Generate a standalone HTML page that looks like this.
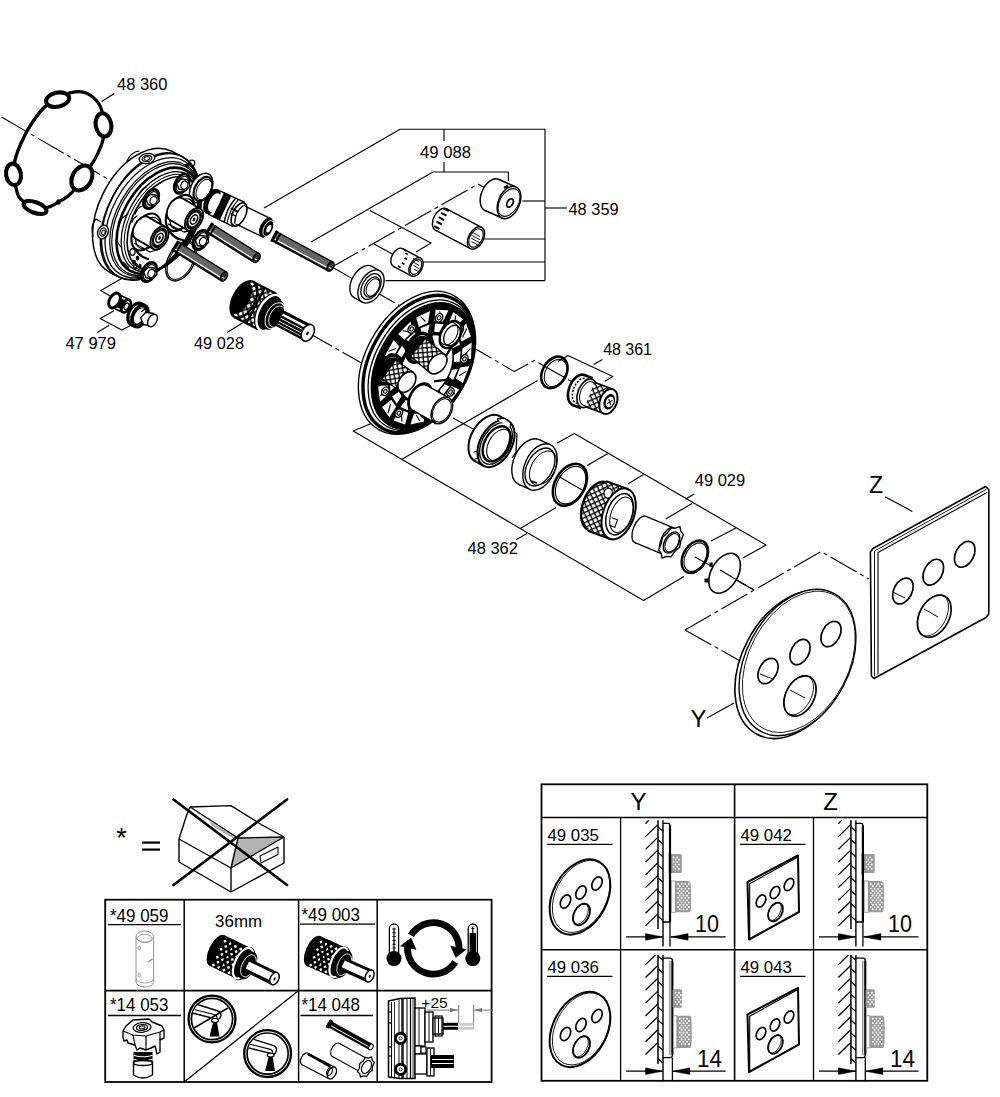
<!DOCTYPE html>
<html><head><meta charset="utf-8"><style>
html,body{margin:0;padding:0;background:#fff;}
svg{display:block;}
text{font-family:"Liberation Sans",sans-serif;fill:#000;}
</style></head><body>
<svg width="1000" height="1097" viewBox="0 0 1000 1097" stroke-linecap="butt">
<rect width="1000" height="1097" fill="#fff"/>
<rect x="541.5" y="784.3" width="385.8" height="296.5" rx="0" stroke="#000" stroke-width="1.8" fill="none" />
<line x1="541.5" y1="817.5" x2="927.3" y2="817.5" stroke="#000" stroke-width="1.6" />
<line x1="541.5" y1="949.7" x2="927.3" y2="949.7" stroke="#000" stroke-width="1.6" />
<line x1="734.6" y1="784.3" x2="734.6" y2="1080.8" stroke="#000" stroke-width="1.6" />
<line x1="620.6" y1="817.5" x2="620.6" y2="1080.8" stroke="#000" stroke-width="1.3" />
<line x1="813.5" y1="817.5" x2="813.5" y2="1080.8" stroke="#000" stroke-width="1.3" />
<text x="638.5" y="809.5" font-size="24" text-anchor="middle" >Y</text>
<text x="830.5" y="809.5" font-size="24" text-anchor="middle" >Z</text>
<text x="547.5" y="840.6" font-size="16.6" text-anchor="start" textLength="51.4" lengthAdjust="spacingAndGlyphs" >49 035</text>
<line x1="547.0" y1="844.4" x2="612.5" y2="844.4" stroke="#000" stroke-width="1.2" />
<text x="740.5" y="840.6" font-size="16.6" text-anchor="start" textLength="51.4" lengthAdjust="spacingAndGlyphs" >49 042</text>
<line x1="740.0" y1="844.4" x2="805.5" y2="844.4" stroke="#000" stroke-width="1.2" />
<text x="547.5" y="972.6" font-size="16.6" text-anchor="start" textLength="51.4" lengthAdjust="spacingAndGlyphs" >49 036</text>
<line x1="547.0" y1="976.4" x2="612.5" y2="976.4" stroke="#000" stroke-width="1.2" />
<text x="740.5" y="972.6" font-size="16.6" text-anchor="start" textLength="51.4" lengthAdjust="spacingAndGlyphs" >49 043</text>
<line x1="740.0" y1="976.4" x2="805.5" y2="976.4" stroke="#000" stroke-width="1.2" />
<ellipse cx="580.0" cy="897.0" rx="27.0" ry="40.0" transform="rotate(28 580.0 897.0)" stroke="#000" stroke-width="2.0" fill="none" />
<ellipse cx="581.2" cy="896.4" rx="25.5" ry="38.5" transform="rotate(28 581.2 896.4)" stroke="#000" stroke-width="0.8" fill="none" />
<ellipse cx="565.5" cy="901.5" rx="4.6" ry="7.0" transform="rotate(28 565.5 901.5)" stroke="#000" stroke-width="1.7" fill="none" />
<ellipse cx="581.0" cy="892.5" rx="4.6" ry="7.0" transform="rotate(28 581.0 892.5)" stroke="#000" stroke-width="1.7" fill="none" />
<ellipse cx="597.0" cy="883.5" rx="4.6" ry="7.0" transform="rotate(28 597.0 883.5)" stroke="#000" stroke-width="1.7" fill="none" />
<ellipse cx="581.5" cy="914.5" rx="7.5" ry="11.5" transform="rotate(28 581.5 914.5)" stroke="#000" stroke-width="1.8" fill="none" />
<ellipse cx="580.6" cy="914.0" rx="6.5" ry="11.3" transform="rotate(28 580.6 914.0)" stroke="#000" stroke-width="0.8" fill="none" />
<ellipse cx="580.0" cy="1029.5" rx="27.0" ry="40.0" transform="rotate(28 580.0 1029.5)" stroke="#000" stroke-width="2.0" fill="none" />
<ellipse cx="581.2" cy="1028.9" rx="25.5" ry="38.5" transform="rotate(28 581.2 1028.9)" stroke="#000" stroke-width="0.8" fill="none" />
<ellipse cx="565.5" cy="1034.0" rx="4.6" ry="7.0" transform="rotate(28 565.5 1034.0)" stroke="#000" stroke-width="1.7" fill="none" />
<ellipse cx="581.0" cy="1025.0" rx="4.6" ry="7.0" transform="rotate(28 581.0 1025.0)" stroke="#000" stroke-width="1.7" fill="none" />
<ellipse cx="597.0" cy="1016.0" rx="4.6" ry="7.0" transform="rotate(28 597.0 1016.0)" stroke="#000" stroke-width="1.7" fill="none" />
<ellipse cx="581.5" cy="1047.0" rx="7.5" ry="11.5" transform="rotate(28 581.5 1047.0)" stroke="#000" stroke-width="1.8" fill="none" />
<ellipse cx="580.6" cy="1046.5" rx="6.5" ry="11.3" transform="rotate(28 580.6 1046.5)" stroke="#000" stroke-width="0.8" fill="none" />
<path d="M747.5,882.0 L798.0,855.5 L799.0,912.0 L749.0,939.5 Z" stroke="#000" stroke-width="2.0" fill="none" stroke-linejoin="round" />
<path d="M749.7,939.0 L749.7,883.8 L797.5,857.3" stroke="#000" stroke-width="1.1" fill="none" stroke-linejoin="round" />
<ellipse cx="761.0" cy="901.0" rx="4.2" ry="6.6" transform="rotate(28 761.0 901.0)" stroke="#000" stroke-width="1.7" fill="none" />
<ellipse cx="775.0" cy="892.5" rx="4.2" ry="6.6" transform="rotate(28 775.0 892.5)" stroke="#000" stroke-width="1.7" fill="none" />
<ellipse cx="789.0" cy="884.5" rx="4.2" ry="6.6" transform="rotate(28 789.0 884.5)" stroke="#000" stroke-width="1.7" fill="none" />
<ellipse cx="775.5" cy="912.0" rx="6.5" ry="10.0" transform="rotate(28 775.5 912.0)" stroke="#000" stroke-width="1.8" fill="none" />
<ellipse cx="774.6" cy="911.5" rx="5.5" ry="9.8" transform="rotate(28 774.6 911.5)" stroke="#000" stroke-width="0.8" fill="none" />
<path d="M747.5,1014.5 L798.0,988.0 L799.0,1044.5 L749.0,1072.0 Z" stroke="#000" stroke-width="2.0" fill="none" stroke-linejoin="round" />
<path d="M749.7,1071.5 L749.7,1016.3 L797.5,989.8" stroke="#000" stroke-width="1.1" fill="none" stroke-linejoin="round" />
<ellipse cx="761.0" cy="1033.5" rx="4.2" ry="6.6" transform="rotate(28 761.0 1033.5)" stroke="#000" stroke-width="1.7" fill="none" />
<ellipse cx="775.0" cy="1025.0" rx="4.2" ry="6.6" transform="rotate(28 775.0 1025.0)" stroke="#000" stroke-width="1.7" fill="none" />
<ellipse cx="789.0" cy="1017.0" rx="4.2" ry="6.6" transform="rotate(28 789.0 1017.0)" stroke="#000" stroke-width="1.7" fill="none" />
<ellipse cx="775.5" cy="1044.5" rx="6.5" ry="10.0" transform="rotate(28 775.5 1044.5)" stroke="#000" stroke-width="1.8" fill="none" />
<ellipse cx="774.6" cy="1044.0" rx="5.5" ry="9.8" transform="rotate(28 774.6 1044.0)" stroke="#000" stroke-width="0.8" fill="none" />
<line x1="645.5" y1="823.8" x2="648.7" y2="820.4" stroke="#000" stroke-width="1.3" />
<line x1="645.5" y1="836.6" x2="657.8" y2="824.6" stroke="#000" stroke-width="1.3" />
<line x1="645.5" y1="849.4" x2="657.8" y2="837.4" stroke="#000" stroke-width="1.3" />
<line x1="645.5" y1="862.1" x2="657.8" y2="850.1" stroke="#000" stroke-width="1.3" />
<line x1="645.5" y1="874.9" x2="657.8" y2="862.9" stroke="#000" stroke-width="1.3" />
<line x1="645.5" y1="887.6" x2="657.8" y2="875.6" stroke="#000" stroke-width="1.3" />
<line x1="645.5" y1="900.4" x2="657.8" y2="888.4" stroke="#000" stroke-width="1.3" />
<line x1="645.5" y1="913.2" x2="657.8" y2="901.2" stroke="#000" stroke-width="1.3" />
<line x1="645.5" y1="925.9" x2="657.8" y2="913.9" stroke="#000" stroke-width="1.3" />
<line x1="658.0" y1="820.2" x2="658.0" y2="929.0" stroke="#000" stroke-width="1.5" />
<line x1="663.0" y1="820.2" x2="663.0" y2="946.5" stroke="#000" stroke-width="1.4" />
<line x1="658.0" y1="827.0" x2="663.0" y2="831.3" stroke="#000" stroke-width="1.3" />
<line x1="658.0" y1="839.8" x2="663.0" y2="844.1" stroke="#000" stroke-width="1.3" />
<line x1="658.0" y1="852.5" x2="663.0" y2="856.8" stroke="#000" stroke-width="1.3" />
<line x1="658.0" y1="865.3" x2="663.0" y2="869.6" stroke="#000" stroke-width="1.3" />
<line x1="658.0" y1="878.0" x2="663.0" y2="882.3" stroke="#000" stroke-width="1.3" />
<line x1="658.0" y1="890.8" x2="663.0" y2="895.1" stroke="#000" stroke-width="1.3" />
<line x1="658.0" y1="903.6" x2="663.0" y2="907.9" stroke="#000" stroke-width="1.3" />
<line x1="658.0" y1="916.3" x2="663.0" y2="920.6" stroke="#000" stroke-width="1.3" />
<path d="M663.0,823.4 L668.0,823.4 Q670.0,823.4 670.0,825.5 L670.0,922.0 L663.0,922.0" stroke="#000" stroke-width="1.3" fill="none" stroke-linejoin="round" stroke-linecap="round" />
<line x1="670.0" y1="825.5" x2="670.0" y2="922.0" stroke="#000" stroke-width="2.2" />
<line x1="670.0" y1="922.0" x2="670.0" y2="946.5" stroke="#000" stroke-width="1.3" />
<rect x="670.3" y="853.9" width="11.5" height="19.0" rx="1.5" stroke="#000" stroke-width="0" fill="#9a9a9a" />
<line x1="670.0" y1="853.5" x2="670.0" y2="873.5" stroke="#000" stroke-width="2.4" />
<rect x="671.4" y="880.9" width="4.0" height="31.4" rx="0" stroke="#9a9a9a" stroke-width="0.9" fill="#fff" />
<path d="M675.0,880.9 L688.5,880.9 Q690.8,881.5 690.8,884.5 Q691.6,896.5 690.8,908.5 Q690.8,912.3 688.5,912.3 L675.0,912.3 Z" stroke="#000" stroke-width="0" fill="#9a9a9a" stroke-linejoin="round" stroke-linecap="round" />
<circle cx="673.50" cy="857.50" r="0.95" fill="#fff"/>
<circle cx="677.10" cy="857.50" r="0.95" fill="#fff"/>
<circle cx="675.30" cy="859.80" r="0.95" fill="#fff"/>
<circle cx="678.90" cy="859.80" r="0.95" fill="#fff"/>
<circle cx="673.50" cy="862.10" r="0.95" fill="#fff"/>
<circle cx="677.10" cy="862.10" r="0.95" fill="#fff"/>
<circle cx="675.30" cy="864.40" r="0.95" fill="#fff"/>
<circle cx="678.90" cy="864.40" r="0.95" fill="#fff"/>
<circle cx="673.50" cy="866.70" r="0.95" fill="#fff"/>
<circle cx="677.10" cy="866.70" r="0.95" fill="#fff"/>
<circle cx="675.30" cy="869.00" r="0.95" fill="#fff"/>
<circle cx="678.90" cy="869.00" r="0.95" fill="#fff"/>
<circle cx="678.00" cy="884.00" r="0.95" fill="#fff"/>
<circle cx="681.60" cy="884.00" r="0.95" fill="#fff"/>
<circle cx="685.20" cy="884.00" r="0.95" fill="#fff"/>
<circle cx="688.80" cy="884.00" r="0.95" fill="#fff"/>
<circle cx="679.80" cy="886.30" r="0.95" fill="#fff"/>
<circle cx="683.40" cy="886.30" r="0.95" fill="#fff"/>
<circle cx="687.00" cy="886.30" r="0.95" fill="#fff"/>
<circle cx="678.00" cy="888.60" r="0.95" fill="#fff"/>
<circle cx="681.60" cy="888.60" r="0.95" fill="#fff"/>
<circle cx="685.20" cy="888.60" r="0.95" fill="#fff"/>
<circle cx="688.80" cy="888.60" r="0.95" fill="#fff"/>
<circle cx="679.80" cy="890.90" r="0.95" fill="#fff"/>
<circle cx="683.40" cy="890.90" r="0.95" fill="#fff"/>
<circle cx="687.00" cy="890.90" r="0.95" fill="#fff"/>
<circle cx="678.00" cy="893.20" r="0.95" fill="#fff"/>
<circle cx="681.60" cy="893.20" r="0.95" fill="#fff"/>
<circle cx="685.20" cy="893.20" r="0.95" fill="#fff"/>
<circle cx="688.80" cy="893.20" r="0.95" fill="#fff"/>
<circle cx="679.80" cy="895.50" r="0.95" fill="#fff"/>
<circle cx="683.40" cy="895.50" r="0.95" fill="#fff"/>
<circle cx="687.00" cy="895.50" r="0.95" fill="#fff"/>
<circle cx="678.00" cy="897.80" r="0.95" fill="#fff"/>
<circle cx="681.60" cy="897.80" r="0.95" fill="#fff"/>
<circle cx="685.20" cy="897.80" r="0.95" fill="#fff"/>
<circle cx="688.80" cy="897.80" r="0.95" fill="#fff"/>
<circle cx="679.80" cy="900.10" r="0.95" fill="#fff"/>
<circle cx="683.40" cy="900.10" r="0.95" fill="#fff"/>
<circle cx="687.00" cy="900.10" r="0.95" fill="#fff"/>
<circle cx="678.00" cy="902.40" r="0.95" fill="#fff"/>
<circle cx="681.60" cy="902.40" r="0.95" fill="#fff"/>
<circle cx="685.20" cy="902.40" r="0.95" fill="#fff"/>
<circle cx="688.80" cy="902.40" r="0.95" fill="#fff"/>
<circle cx="679.80" cy="904.70" r="0.95" fill="#fff"/>
<circle cx="683.40" cy="904.70" r="0.95" fill="#fff"/>
<circle cx="687.00" cy="904.70" r="0.95" fill="#fff"/>
<circle cx="678.00" cy="907.00" r="0.95" fill="#fff"/>
<circle cx="681.60" cy="907.00" r="0.95" fill="#fff"/>
<circle cx="685.20" cy="907.00" r="0.95" fill="#fff"/>
<circle cx="688.80" cy="907.00" r="0.95" fill="#fff"/>
<circle cx="679.80" cy="909.30" r="0.95" fill="#fff"/>
<circle cx="683.40" cy="909.30" r="0.95" fill="#fff"/>
<circle cx="687.00" cy="909.30" r="0.95" fill="#fff"/>
<text x="695.1" y="932.0" font-size="23" text-anchor="start" textLength="24" lengthAdjust="spacingAndGlyphs" >10</text>
<line x1="626.1" y1="936.9" x2="663.0" y2="936.9" stroke="#000" stroke-width="1.3" />
<path d="M663.0,936.9 L645.5,933.5 L645.5,940.3 Z" stroke="#000" stroke-width="0.4" fill="#000" stroke-linejoin="round" />
<line x1="670.6" y1="936.9" x2="725.6" y2="936.9" stroke="#000" stroke-width="1.3" />
<path d="M670.6,936.9 L688.1,933.5 L688.1,940.3 Z" stroke="#000" stroke-width="0.4" fill="#000" stroke-linejoin="round" />
<line x1="838.4" y1="823.8" x2="841.6" y2="820.4" stroke="#000" stroke-width="1.3" />
<line x1="838.4" y1="836.6" x2="850.7" y2="824.6" stroke="#000" stroke-width="1.3" />
<line x1="838.4" y1="849.4" x2="850.7" y2="837.4" stroke="#000" stroke-width="1.3" />
<line x1="838.4" y1="862.1" x2="850.7" y2="850.1" stroke="#000" stroke-width="1.3" />
<line x1="838.4" y1="874.9" x2="850.7" y2="862.9" stroke="#000" stroke-width="1.3" />
<line x1="838.4" y1="887.6" x2="850.7" y2="875.6" stroke="#000" stroke-width="1.3" />
<line x1="838.4" y1="900.4" x2="850.7" y2="888.4" stroke="#000" stroke-width="1.3" />
<line x1="838.4" y1="913.2" x2="850.7" y2="901.2" stroke="#000" stroke-width="1.3" />
<line x1="838.4" y1="925.9" x2="850.7" y2="913.9" stroke="#000" stroke-width="1.3" />
<line x1="850.9" y1="820.2" x2="850.9" y2="929.0" stroke="#000" stroke-width="1.5" />
<line x1="855.9" y1="820.2" x2="855.9" y2="946.5" stroke="#000" stroke-width="1.4" />
<line x1="850.9" y1="827.0" x2="855.9" y2="831.3" stroke="#000" stroke-width="1.3" />
<line x1="850.9" y1="839.8" x2="855.9" y2="844.1" stroke="#000" stroke-width="1.3" />
<line x1="850.9" y1="852.5" x2="855.9" y2="856.8" stroke="#000" stroke-width="1.3" />
<line x1="850.9" y1="865.3" x2="855.9" y2="869.6" stroke="#000" stroke-width="1.3" />
<line x1="850.9" y1="878.0" x2="855.9" y2="882.3" stroke="#000" stroke-width="1.3" />
<line x1="850.9" y1="890.8" x2="855.9" y2="895.1" stroke="#000" stroke-width="1.3" />
<line x1="850.9" y1="903.6" x2="855.9" y2="907.9" stroke="#000" stroke-width="1.3" />
<line x1="850.9" y1="916.3" x2="855.9" y2="920.6" stroke="#000" stroke-width="1.3" />
<path d="M855.9,823.4 L860.9,823.4 Q862.9,823.4 862.9,825.5 L862.9,922.0 L855.9,922.0" stroke="#000" stroke-width="1.3" fill="none" stroke-linejoin="round" stroke-linecap="round" />
<line x1="862.9" y1="825.5" x2="862.9" y2="922.0" stroke="#000" stroke-width="2.2" />
<line x1="862.9" y1="922.0" x2="862.9" y2="946.5" stroke="#000" stroke-width="1.3" />
<rect x="863.2" y="853.9" width="11.5" height="19.0" rx="1.5" stroke="#000" stroke-width="0" fill="#9a9a9a" />
<line x1="862.9" y1="853.5" x2="862.9" y2="873.5" stroke="#000" stroke-width="2.4" />
<rect x="864.3" y="880.9" width="4.0" height="31.4" rx="0" stroke="#9a9a9a" stroke-width="0.9" fill="#fff" />
<path d="M867.9,880.9 L881.4,880.9 Q883.6999999999999,881.5 883.6999999999999,884.5 Q884.5,896.5 883.6999999999999,908.5 Q883.6999999999999,912.3 881.4,912.3 L867.9,912.3 Z" stroke="#000" stroke-width="0" fill="#9a9a9a" stroke-linejoin="round" stroke-linecap="round" />
<circle cx="866.40" cy="857.50" r="0.95" fill="#fff"/>
<circle cx="870.00" cy="857.50" r="0.95" fill="#fff"/>
<circle cx="868.20" cy="859.80" r="0.95" fill="#fff"/>
<circle cx="871.80" cy="859.80" r="0.95" fill="#fff"/>
<circle cx="866.40" cy="862.10" r="0.95" fill="#fff"/>
<circle cx="870.00" cy="862.10" r="0.95" fill="#fff"/>
<circle cx="868.20" cy="864.40" r="0.95" fill="#fff"/>
<circle cx="871.80" cy="864.40" r="0.95" fill="#fff"/>
<circle cx="866.40" cy="866.70" r="0.95" fill="#fff"/>
<circle cx="870.00" cy="866.70" r="0.95" fill="#fff"/>
<circle cx="868.20" cy="869.00" r="0.95" fill="#fff"/>
<circle cx="871.80" cy="869.00" r="0.95" fill="#fff"/>
<circle cx="870.90" cy="884.00" r="0.95" fill="#fff"/>
<circle cx="874.50" cy="884.00" r="0.95" fill="#fff"/>
<circle cx="878.10" cy="884.00" r="0.95" fill="#fff"/>
<circle cx="881.70" cy="884.00" r="0.95" fill="#fff"/>
<circle cx="872.70" cy="886.30" r="0.95" fill="#fff"/>
<circle cx="876.30" cy="886.30" r="0.95" fill="#fff"/>
<circle cx="879.90" cy="886.30" r="0.95" fill="#fff"/>
<circle cx="870.90" cy="888.60" r="0.95" fill="#fff"/>
<circle cx="874.50" cy="888.60" r="0.95" fill="#fff"/>
<circle cx="878.10" cy="888.60" r="0.95" fill="#fff"/>
<circle cx="881.70" cy="888.60" r="0.95" fill="#fff"/>
<circle cx="872.70" cy="890.90" r="0.95" fill="#fff"/>
<circle cx="876.30" cy="890.90" r="0.95" fill="#fff"/>
<circle cx="879.90" cy="890.90" r="0.95" fill="#fff"/>
<circle cx="870.90" cy="893.20" r="0.95" fill="#fff"/>
<circle cx="874.50" cy="893.20" r="0.95" fill="#fff"/>
<circle cx="878.10" cy="893.20" r="0.95" fill="#fff"/>
<circle cx="881.70" cy="893.20" r="0.95" fill="#fff"/>
<circle cx="872.70" cy="895.50" r="0.95" fill="#fff"/>
<circle cx="876.30" cy="895.50" r="0.95" fill="#fff"/>
<circle cx="879.90" cy="895.50" r="0.95" fill="#fff"/>
<circle cx="870.90" cy="897.80" r="0.95" fill="#fff"/>
<circle cx="874.50" cy="897.80" r="0.95" fill="#fff"/>
<circle cx="878.10" cy="897.80" r="0.95" fill="#fff"/>
<circle cx="881.70" cy="897.80" r="0.95" fill="#fff"/>
<circle cx="872.70" cy="900.10" r="0.95" fill="#fff"/>
<circle cx="876.30" cy="900.10" r="0.95" fill="#fff"/>
<circle cx="879.90" cy="900.10" r="0.95" fill="#fff"/>
<circle cx="870.90" cy="902.40" r="0.95" fill="#fff"/>
<circle cx="874.50" cy="902.40" r="0.95" fill="#fff"/>
<circle cx="878.10" cy="902.40" r="0.95" fill="#fff"/>
<circle cx="881.70" cy="902.40" r="0.95" fill="#fff"/>
<circle cx="872.70" cy="904.70" r="0.95" fill="#fff"/>
<circle cx="876.30" cy="904.70" r="0.95" fill="#fff"/>
<circle cx="879.90" cy="904.70" r="0.95" fill="#fff"/>
<circle cx="870.90" cy="907.00" r="0.95" fill="#fff"/>
<circle cx="874.50" cy="907.00" r="0.95" fill="#fff"/>
<circle cx="878.10" cy="907.00" r="0.95" fill="#fff"/>
<circle cx="881.70" cy="907.00" r="0.95" fill="#fff"/>
<circle cx="872.70" cy="909.30" r="0.95" fill="#fff"/>
<circle cx="876.30" cy="909.30" r="0.95" fill="#fff"/>
<circle cx="879.90" cy="909.30" r="0.95" fill="#fff"/>
<text x="888.0" y="932.0" font-size="23" text-anchor="start" textLength="24" lengthAdjust="spacingAndGlyphs" >10</text>
<line x1="819.0" y1="936.9" x2="855.9" y2="936.9" stroke="#000" stroke-width="1.3" />
<path d="M855.9,936.9 L838.4,933.5 L838.4,940.3 Z" stroke="#000" stroke-width="0.4" fill="#000" stroke-linejoin="round" />
<line x1="863.5" y1="936.9" x2="918.5" y2="936.9" stroke="#000" stroke-width="1.3" />
<path d="M863.5,936.9 L881.0,933.5 L881.0,940.3 Z" stroke="#000" stroke-width="0.4" fill="#000" stroke-linejoin="round" />
<line x1="645.5" y1="964.6" x2="655.5" y2="955.0" stroke="#000" stroke-width="1.3" />
<line x1="645.5" y1="977.5" x2="657.8" y2="965.5" stroke="#000" stroke-width="1.3" />
<line x1="645.5" y1="990.3" x2="657.8" y2="978.3" stroke="#000" stroke-width="1.3" />
<line x1="645.5" y1="1003.1" x2="657.8" y2="991.1" stroke="#000" stroke-width="1.3" />
<line x1="645.5" y1="1016.0" x2="657.8" y2="1004.0" stroke="#000" stroke-width="1.3" />
<line x1="645.5" y1="1028.8" x2="657.8" y2="1016.8" stroke="#000" stroke-width="1.3" />
<line x1="645.5" y1="1041.7" x2="657.8" y2="1029.7" stroke="#000" stroke-width="1.3" />
<line x1="645.5" y1="1054.5" x2="657.8" y2="1042.5" stroke="#000" stroke-width="1.3" />
<line x1="658.0" y1="955.0" x2="658.0" y2="1064.0" stroke="#000" stroke-width="1.5" />
<line x1="663.0" y1="955.0" x2="663.0" y2="1081.2" stroke="#000" stroke-width="1.4" />
<line x1="658.0" y1="955.9" x2="663.0" y2="960.2" stroke="#000" stroke-width="1.3" />
<line x1="658.0" y1="968.8" x2="663.0" y2="973.1" stroke="#000" stroke-width="1.3" />
<line x1="658.0" y1="981.6" x2="663.0" y2="985.9" stroke="#000" stroke-width="1.3" />
<line x1="658.0" y1="994.5" x2="663.0" y2="998.8" stroke="#000" stroke-width="1.3" />
<line x1="658.0" y1="1007.3" x2="663.0" y2="1011.6" stroke="#000" stroke-width="1.3" />
<line x1="658.0" y1="1020.2" x2="663.0" y2="1024.5" stroke="#000" stroke-width="1.3" />
<line x1="658.0" y1="1033.0" x2="663.0" y2="1037.3" stroke="#000" stroke-width="1.3" />
<line x1="658.0" y1="1045.9" x2="663.0" y2="1050.2" stroke="#000" stroke-width="1.3" />
<line x1="658.0" y1="1058.7" x2="663.0" y2="1063.0" stroke="#000" stroke-width="1.3" />
<path d="M663.0,958.2 L670.1999999999999,958.2 Q672.4,958.2 672.4,960.7 L672.4,1054.7 Q672.4,1057.6000000000001 670.1999999999999,1057.6000000000001 L663.0,1057.6000000000001" stroke="#000" stroke-width="1.3" fill="none" stroke-linejoin="round" stroke-linecap="round" />
<line x1="672.4" y1="960.7" x2="672.4" y2="1054.7" stroke="#000" stroke-width="2.0" />
<line x1="669.9" y1="960.7" x2="669.9" y2="1055.2" stroke="#666" stroke-width="1.0" />
<line x1="672.4" y1="1057.6" x2="672.4" y2="1081.2" stroke="#000" stroke-width="1.3" />
<rect x="672.6" y="989.3" width="9.4" height="18.4" rx="1.5" stroke="#000" stroke-width="0" fill="#9a9a9a" />
<rect x="673.4" y="1015.7" width="3.5" height="32.2" rx="0" stroke="#9a9a9a" stroke-width="0.9" fill="#fff" />
<path d="M676.9,1015.7 L689.4,1015.7 Q691.4,1016.2 691.4,1019.2 Q692.1999999999999,1031.7 691.4,1043.7 Q691.4,1047.9 689.4,1047.9 L676.9,1047.9 Z" stroke="#000" stroke-width="0" fill="#9a9a9a" stroke-linejoin="round" stroke-linecap="round" />
<circle cx="675.40" cy="992.70" r="0.95" fill="#fff"/>
<circle cx="679.00" cy="992.70" r="0.95" fill="#fff"/>
<circle cx="677.20" cy="995.00" r="0.95" fill="#fff"/>
<circle cx="680.80" cy="995.00" r="0.95" fill="#fff"/>
<circle cx="675.40" cy="997.30" r="0.95" fill="#fff"/>
<circle cx="679.00" cy="997.30" r="0.95" fill="#fff"/>
<circle cx="677.20" cy="999.60" r="0.95" fill="#fff"/>
<circle cx="680.80" cy="999.60" r="0.95" fill="#fff"/>
<circle cx="675.40" cy="1001.90" r="0.95" fill="#fff"/>
<circle cx="679.00" cy="1001.90" r="0.95" fill="#fff"/>
<circle cx="677.20" cy="1004.20" r="0.95" fill="#fff"/>
<circle cx="680.80" cy="1004.20" r="0.95" fill="#fff"/>
<circle cx="679.90" cy="1018.70" r="0.95" fill="#fff"/>
<circle cx="683.50" cy="1018.70" r="0.95" fill="#fff"/>
<circle cx="687.10" cy="1018.70" r="0.95" fill="#fff"/>
<circle cx="681.70" cy="1021.00" r="0.95" fill="#fff"/>
<circle cx="685.30" cy="1021.00" r="0.95" fill="#fff"/>
<circle cx="688.90" cy="1021.00" r="0.95" fill="#fff"/>
<circle cx="679.90" cy="1023.30" r="0.95" fill="#fff"/>
<circle cx="683.50" cy="1023.30" r="0.95" fill="#fff"/>
<circle cx="687.10" cy="1023.30" r="0.95" fill="#fff"/>
<circle cx="681.70" cy="1025.60" r="0.95" fill="#fff"/>
<circle cx="685.30" cy="1025.60" r="0.95" fill="#fff"/>
<circle cx="688.90" cy="1025.60" r="0.95" fill="#fff"/>
<circle cx="679.90" cy="1027.90" r="0.95" fill="#fff"/>
<circle cx="683.50" cy="1027.90" r="0.95" fill="#fff"/>
<circle cx="687.10" cy="1027.90" r="0.95" fill="#fff"/>
<circle cx="681.70" cy="1030.20" r="0.95" fill="#fff"/>
<circle cx="685.30" cy="1030.20" r="0.95" fill="#fff"/>
<circle cx="688.90" cy="1030.20" r="0.95" fill="#fff"/>
<circle cx="679.90" cy="1032.50" r="0.95" fill="#fff"/>
<circle cx="683.50" cy="1032.50" r="0.95" fill="#fff"/>
<circle cx="687.10" cy="1032.50" r="0.95" fill="#fff"/>
<circle cx="681.70" cy="1034.80" r="0.95" fill="#fff"/>
<circle cx="685.30" cy="1034.80" r="0.95" fill="#fff"/>
<circle cx="688.90" cy="1034.80" r="0.95" fill="#fff"/>
<circle cx="679.90" cy="1037.10" r="0.95" fill="#fff"/>
<circle cx="683.50" cy="1037.10" r="0.95" fill="#fff"/>
<circle cx="687.10" cy="1037.10" r="0.95" fill="#fff"/>
<circle cx="681.70" cy="1039.40" r="0.95" fill="#fff"/>
<circle cx="685.30" cy="1039.40" r="0.95" fill="#fff"/>
<circle cx="688.90" cy="1039.40" r="0.95" fill="#fff"/>
<circle cx="679.90" cy="1041.70" r="0.95" fill="#fff"/>
<circle cx="683.50" cy="1041.70" r="0.95" fill="#fff"/>
<circle cx="687.10" cy="1041.70" r="0.95" fill="#fff"/>
<circle cx="681.70" cy="1044.00" r="0.95" fill="#fff"/>
<circle cx="685.30" cy="1044.00" r="0.95" fill="#fff"/>
<circle cx="688.90" cy="1044.00" r="0.95" fill="#fff"/>
<text x="697.1" y="1066.8" font-size="23" text-anchor="start" textLength="25" lengthAdjust="spacingAndGlyphs" >14</text>
<line x1="626.1" y1="1071.2" x2="663.0" y2="1071.2" stroke="#000" stroke-width="1.3" />
<path d="M663.0,1071.2 L645.5,1067.8 L645.5,1074.6 Z" stroke="#000" stroke-width="0.4" fill="#000" stroke-linejoin="round" />
<line x1="672.4" y1="1071.2" x2="725.6" y2="1071.2" stroke="#000" stroke-width="1.3" />
<path d="M672.4,1071.2 L689.9,1067.8 L689.9,1074.6 Z" stroke="#000" stroke-width="0.4" fill="#000" stroke-linejoin="round" />
<line x1="838.4" y1="964.6" x2="848.4" y2="955.0" stroke="#000" stroke-width="1.3" />
<line x1="838.4" y1="977.5" x2="850.7" y2="965.5" stroke="#000" stroke-width="1.3" />
<line x1="838.4" y1="990.3" x2="850.7" y2="978.3" stroke="#000" stroke-width="1.3" />
<line x1="838.4" y1="1003.1" x2="850.7" y2="991.1" stroke="#000" stroke-width="1.3" />
<line x1="838.4" y1="1016.0" x2="850.7" y2="1004.0" stroke="#000" stroke-width="1.3" />
<line x1="838.4" y1="1028.8" x2="850.7" y2="1016.8" stroke="#000" stroke-width="1.3" />
<line x1="838.4" y1="1041.7" x2="850.7" y2="1029.7" stroke="#000" stroke-width="1.3" />
<line x1="838.4" y1="1054.5" x2="850.7" y2="1042.5" stroke="#000" stroke-width="1.3" />
<line x1="850.9" y1="955.0" x2="850.9" y2="1064.0" stroke="#000" stroke-width="1.5" />
<line x1="855.9" y1="955.0" x2="855.9" y2="1081.2" stroke="#000" stroke-width="1.4" />
<line x1="850.9" y1="955.9" x2="855.9" y2="960.2" stroke="#000" stroke-width="1.3" />
<line x1="850.9" y1="968.8" x2="855.9" y2="973.1" stroke="#000" stroke-width="1.3" />
<line x1="850.9" y1="981.6" x2="855.9" y2="985.9" stroke="#000" stroke-width="1.3" />
<line x1="850.9" y1="994.5" x2="855.9" y2="998.8" stroke="#000" stroke-width="1.3" />
<line x1="850.9" y1="1007.3" x2="855.9" y2="1011.6" stroke="#000" stroke-width="1.3" />
<line x1="850.9" y1="1020.2" x2="855.9" y2="1024.5" stroke="#000" stroke-width="1.3" />
<line x1="850.9" y1="1033.0" x2="855.9" y2="1037.3" stroke="#000" stroke-width="1.3" />
<line x1="850.9" y1="1045.9" x2="855.9" y2="1050.2" stroke="#000" stroke-width="1.3" />
<line x1="850.9" y1="1058.7" x2="855.9" y2="1063.0" stroke="#000" stroke-width="1.3" />
<path d="M855.9,958.2 L863.0999999999999,958.2 Q865.3,958.2 865.3,960.7 L865.3,1054.7 Q865.3,1057.6000000000001 863.0999999999999,1057.6000000000001 L855.9,1057.6000000000001" stroke="#000" stroke-width="1.3" fill="none" stroke-linejoin="round" stroke-linecap="round" />
<line x1="865.3" y1="960.7" x2="865.3" y2="1054.7" stroke="#000" stroke-width="2.0" />
<line x1="862.8" y1="960.7" x2="862.8" y2="1055.2" stroke="#666" stroke-width="1.0" />
<line x1="865.3" y1="1057.6" x2="865.3" y2="1081.2" stroke="#000" stroke-width="1.3" />
<rect x="865.5" y="989.3" width="9.4" height="18.4" rx="1.5" stroke="#000" stroke-width="0" fill="#9a9a9a" />
<rect x="866.3" y="1015.7" width="3.5" height="32.2" rx="0" stroke="#9a9a9a" stroke-width="0.9" fill="#fff" />
<path d="M869.8,1015.7 L882.3,1015.7 Q884.3,1016.2 884.3,1019.2 Q885.0999999999999,1031.7 884.3,1043.7 Q884.3,1047.9 882.3,1047.9 L869.8,1047.9 Z" stroke="#000" stroke-width="0" fill="#9a9a9a" stroke-linejoin="round" stroke-linecap="round" />
<circle cx="868.30" cy="992.70" r="0.95" fill="#fff"/>
<circle cx="871.90" cy="992.70" r="0.95" fill="#fff"/>
<circle cx="870.10" cy="995.00" r="0.95" fill="#fff"/>
<circle cx="873.70" cy="995.00" r="0.95" fill="#fff"/>
<circle cx="868.30" cy="997.30" r="0.95" fill="#fff"/>
<circle cx="871.90" cy="997.30" r="0.95" fill="#fff"/>
<circle cx="870.10" cy="999.60" r="0.95" fill="#fff"/>
<circle cx="873.70" cy="999.60" r="0.95" fill="#fff"/>
<circle cx="868.30" cy="1001.90" r="0.95" fill="#fff"/>
<circle cx="871.90" cy="1001.90" r="0.95" fill="#fff"/>
<circle cx="870.10" cy="1004.20" r="0.95" fill="#fff"/>
<circle cx="873.70" cy="1004.20" r="0.95" fill="#fff"/>
<circle cx="872.80" cy="1018.70" r="0.95" fill="#fff"/>
<circle cx="876.40" cy="1018.70" r="0.95" fill="#fff"/>
<circle cx="880.00" cy="1018.70" r="0.95" fill="#fff"/>
<circle cx="874.60" cy="1021.00" r="0.95" fill="#fff"/>
<circle cx="878.20" cy="1021.00" r="0.95" fill="#fff"/>
<circle cx="881.80" cy="1021.00" r="0.95" fill="#fff"/>
<circle cx="872.80" cy="1023.30" r="0.95" fill="#fff"/>
<circle cx="876.40" cy="1023.30" r="0.95" fill="#fff"/>
<circle cx="880.00" cy="1023.30" r="0.95" fill="#fff"/>
<circle cx="874.60" cy="1025.60" r="0.95" fill="#fff"/>
<circle cx="878.20" cy="1025.60" r="0.95" fill="#fff"/>
<circle cx="881.80" cy="1025.60" r="0.95" fill="#fff"/>
<circle cx="872.80" cy="1027.90" r="0.95" fill="#fff"/>
<circle cx="876.40" cy="1027.90" r="0.95" fill="#fff"/>
<circle cx="880.00" cy="1027.90" r="0.95" fill="#fff"/>
<circle cx="874.60" cy="1030.20" r="0.95" fill="#fff"/>
<circle cx="878.20" cy="1030.20" r="0.95" fill="#fff"/>
<circle cx="881.80" cy="1030.20" r="0.95" fill="#fff"/>
<circle cx="872.80" cy="1032.50" r="0.95" fill="#fff"/>
<circle cx="876.40" cy="1032.50" r="0.95" fill="#fff"/>
<circle cx="880.00" cy="1032.50" r="0.95" fill="#fff"/>
<circle cx="874.60" cy="1034.80" r="0.95" fill="#fff"/>
<circle cx="878.20" cy="1034.80" r="0.95" fill="#fff"/>
<circle cx="881.80" cy="1034.80" r="0.95" fill="#fff"/>
<circle cx="872.80" cy="1037.10" r="0.95" fill="#fff"/>
<circle cx="876.40" cy="1037.10" r="0.95" fill="#fff"/>
<circle cx="880.00" cy="1037.10" r="0.95" fill="#fff"/>
<circle cx="874.60" cy="1039.40" r="0.95" fill="#fff"/>
<circle cx="878.20" cy="1039.40" r="0.95" fill="#fff"/>
<circle cx="881.80" cy="1039.40" r="0.95" fill="#fff"/>
<circle cx="872.80" cy="1041.70" r="0.95" fill="#fff"/>
<circle cx="876.40" cy="1041.70" r="0.95" fill="#fff"/>
<circle cx="880.00" cy="1041.70" r="0.95" fill="#fff"/>
<circle cx="874.60" cy="1044.00" r="0.95" fill="#fff"/>
<circle cx="878.20" cy="1044.00" r="0.95" fill="#fff"/>
<circle cx="881.80" cy="1044.00" r="0.95" fill="#fff"/>
<text x="890.0" y="1066.8" font-size="23" text-anchor="start" textLength="25" lengthAdjust="spacingAndGlyphs" >14</text>
<line x1="819.0" y1="1071.2" x2="855.9" y2="1071.2" stroke="#000" stroke-width="1.3" />
<path d="M855.9,1071.2 L838.4,1067.8 L838.4,1074.6 Z" stroke="#000" stroke-width="0.4" fill="#000" stroke-linejoin="round" />
<line x1="865.3" y1="1071.2" x2="918.5" y2="1071.2" stroke="#000" stroke-width="1.3" />
<path d="M865.3,1071.2 L882.8,1067.8 L882.8,1074.6 Z" stroke="#000" stroke-width="0.4" fill="#000" stroke-linejoin="round" />
<path d="M238.0,838.0 L284.0,837.0 L231.0,868.0 Z" stroke="#000" stroke-width="0" fill="#b4b4b4" stroke-linejoin="round" />
<path d="M209.0,821.0 L238.0,838.0 L236.0,840.0 L212.0,826.0 Z" stroke="#000" stroke-width="0" fill="#b4b4b4" stroke-linejoin="round" />
<path d="M187.0,814.0 L179.0,839.0 L179.0,862.0 L231.0,892.0 L284.0,863.0 L284.0,837.0" stroke="#000" stroke-width="1.4" fill="none" stroke-linejoin="round" />
<line x1="179.0" y1="839.0" x2="231.0" y2="868.0" stroke="#000" stroke-width="1.4" />
<line x1="231.0" y1="868.0" x2="231.0" y2="892.0" stroke="#000" stroke-width="1.4" />
<line x1="231.0" y1="868.0" x2="284.0" y2="837.0" stroke="#000" stroke-width="1.4" />
<line x1="238.0" y1="838.0" x2="284.0" y2="837.0" stroke="#000" stroke-width="1.4" />
<line x1="231.0" y1="868.0" x2="238.0" y2="838.0" stroke="#000" stroke-width="1.4" />
<path d="M187.0,814.0 L190.0,807.0 L231.0,805.6 L262.0,825.0 L284.0,837.0" stroke="#000" stroke-width="1.4" fill="none" stroke-linejoin="round" />
<line x1="190.0" y1="807.0" x2="238.0" y2="838.0" stroke="#000" stroke-width="1.4" />
<path d="M260.0,856.0 L278.0,847.0 L278.0,854.5 L261.0,863.0 Z" stroke="#000" stroke-width="1.1" fill="none" stroke-linejoin="round" />
<line x1="173.5" y1="799.5" x2="287.0" y2="885.0" stroke="#000" stroke-width="2.7" stroke-linecap="round"/>
<line x1="287.0" y1="799.5" x2="173.5" y2="885.0" stroke="#000" stroke-width="2.7" stroke-linecap="round"/>
<text x="121.5" y="847" font-size="27" text-anchor="middle" >*</text>
<rect x="142.0" y="841.5" width="18.0" height="2.2" rx="0" stroke="#000" stroke-width="0" fill="#000" />
<rect x="142.0" y="848.5" width="18.0" height="2.2" rx="0" stroke="#000" stroke-width="0" fill="#000" />
<rect x="105.2" y="899.7" width="386.4" height="182.3" rx="0" stroke="#000" stroke-width="1.8" fill="none" />
<line x1="105.0" y1="990.6" x2="491.6" y2="990.6" stroke="#000" stroke-width="1.6" />
<line x1="184.2" y1="899.7" x2="184.2" y2="1082.0" stroke="#000" stroke-width="1.5" />
<line x1="298.6" y1="899.7" x2="298.6" y2="1082.0" stroke="#000" stroke-width="1.5" />
<line x1="377.2" y1="899.7" x2="377.2" y2="1082.0" stroke="#000" stroke-width="1.5" />
<line x1="184.2" y1="1082.0" x2="298.6" y2="990.6" stroke="#000" stroke-width="1.3" />
<text x="110" y="921.7" font-size="17.8" text-anchor="start" textLength="58.5" lengthAdjust="spacingAndGlyphs" >*49 059</text>
<line x1="108.0" y1="924.6" x2="181.0" y2="924.6" stroke="#000" stroke-width="1.3" />
<text x="301.5" y="921.2" font-size="17.8" text-anchor="start" textLength="58.5" lengthAdjust="spacingAndGlyphs" >*49 003</text>
<line x1="300.0" y1="924.1" x2="375.0" y2="924.1" stroke="#000" stroke-width="1.3" />
<text x="110" y="1011.2" font-size="17.8" text-anchor="start" textLength="58.5" lengthAdjust="spacingAndGlyphs" >*14 053</text>
<line x1="108.0" y1="1015.5" x2="181.0" y2="1015.5" stroke="#000" stroke-width="1.3" />
<text x="301.4" y="1011.2" font-size="17.8" text-anchor="start" textLength="58.5" lengthAdjust="spacingAndGlyphs" >*14 048</text>
<line x1="300.5" y1="1015.5" x2="373.0" y2="1015.5" stroke="#000" stroke-width="1.3" />
<text x="215.1" y="927.3" font-size="16" text-anchor="start" textLength="47" lengthAdjust="spacingAndGlyphs" >36mm</text>
<text x="421.3" y="1007.8" font-size="15.5" text-anchor="start" textLength="26.4" lengthAdjust="spacingAndGlyphs" >+25</text>
<ellipse cx="144.8" cy="936.6" rx="8.8" ry="5.6" transform="rotate(0 144.8 936.6)" stroke="#8a8a8a" stroke-width="0.9" fill="#fff" />
<ellipse cx="144.8" cy="938.5" rx="7.2" ry="4.2" transform="rotate(0 144.8 938.5)" stroke="#8a8a8a" stroke-width="0.8" fill="none" />
<line x1="136.0" y1="937.0" x2="136.0" y2="982.0" stroke="#8a8a8a" stroke-width="0.9" />
<line x1="153.6" y1="937.0" x2="153.6" y2="982.0" stroke="#8a8a8a" stroke-width="0.9" />
<path d="M136,981 Q136,987 144.8,987 Q153.6,987 153.6,981" stroke="#8a8a8a" stroke-width="0.9" fill="none" stroke-linejoin="round" stroke-linecap="round" />
<path d="M136,978 Q136,983 144.8,983 Q153.6,983 153.6,978" stroke="#8a8a8a" stroke-width="0.7" fill="none" stroke-linejoin="round" stroke-linecap="round" />
<ellipse cx="139.2" cy="947.8" rx="1.3" ry="1.8" transform="rotate(0 139.2 947.8)" stroke="#8a8a8a" stroke-width="0.8" fill="none" />
<ellipse cx="139.2" cy="975.3" rx="1.3" ry="1.8" transform="rotate(0 139.2 975.3)" stroke="#8a8a8a" stroke-width="0.8" fill="none" />
<line x1="148.0" y1="962.0" x2="152.5" y2="959.0" stroke="#8a8a8a" stroke-width="1.5" />
<g transform="translate(217.0 950.5) rotate(26) scale(1.0)">
<ellipse cx="0" cy="0" rx="8" ry="17" fill="#000"/>
<rect x="0" y="-17" width="27" height="34" fill="#000"/>
<ellipse cx="27" cy="0" rx="8.5" ry="17" fill="#000"/>
<rect x="2.0" y="-13.0" width="2.4" height="2.4" fill="#fff" transform="rotate(45 3.2 -11.8)"/>
<rect x="7.8" y="-13.0" width="2.4" height="2.4" fill="#fff" transform="rotate(45 9.0 -11.8)"/>
<rect x="13.6" y="-13.0" width="2.4" height="2.4" fill="#fff" transform="rotate(45 14.8 -11.8)"/>
<rect x="19.4" y="-13.0" width="2.4" height="2.4" fill="#fff" transform="rotate(45 20.6 -11.8)"/>
<rect x="4.9" y="-8.6" width="2.4" height="2.4" fill="#fff" transform="rotate(45 6.1 -7.4)"/>
<rect x="10.7" y="-8.6" width="2.4" height="2.4" fill="#fff" transform="rotate(45 11.9 -7.4)"/>
<rect x="16.5" y="-8.6" width="2.4" height="2.4" fill="#fff" transform="rotate(45 17.7 -7.4)"/>
<rect x="22.3" y="-8.6" width="2.4" height="2.4" fill="#fff" transform="rotate(45 23.5 -7.4)"/>
<rect x="2.0" y="-4.2" width="2.4" height="2.4" fill="#fff" transform="rotate(45 3.2 -3.0)"/>
<rect x="7.8" y="-4.2" width="2.4" height="2.4" fill="#fff" transform="rotate(45 9.0 -3.0)"/>
<rect x="13.6" y="-4.2" width="2.4" height="2.4" fill="#fff" transform="rotate(45 14.8 -3.0)"/>
<rect x="19.4" y="-4.2" width="2.4" height="2.4" fill="#fff" transform="rotate(45 20.6 -3.0)"/>
<rect x="4.9" y="0.2" width="2.4" height="2.4" fill="#fff" transform="rotate(45 6.1 1.4)"/>
<rect x="10.7" y="0.2" width="2.4" height="2.4" fill="#fff" transform="rotate(45 11.9 1.4)"/>
<rect x="16.5" y="0.2" width="2.4" height="2.4" fill="#fff" transform="rotate(45 17.7 1.4)"/>
<rect x="22.3" y="0.2" width="2.4" height="2.4" fill="#fff" transform="rotate(45 23.5 1.4)"/>
<rect x="2.0" y="4.6" width="2.4" height="2.4" fill="#fff" transform="rotate(45 3.2 5.8)"/>
<rect x="7.8" y="4.6" width="2.4" height="2.4" fill="#fff" transform="rotate(45 9.0 5.8)"/>
<rect x="13.6" y="4.6" width="2.4" height="2.4" fill="#fff" transform="rotate(45 14.8 5.8)"/>
<rect x="19.4" y="4.6" width="2.4" height="2.4" fill="#fff" transform="rotate(45 20.6 5.8)"/>
<rect x="4.9" y="9.0" width="2.4" height="2.4" fill="#fff" transform="rotate(45 6.1 10.2)"/>
<rect x="10.7" y="9.0" width="2.4" height="2.4" fill="#fff" transform="rotate(45 11.9 10.2)"/>
<rect x="16.5" y="9.0" width="2.4" height="2.4" fill="#fff" transform="rotate(45 17.7 10.2)"/>
<rect x="22.3" y="9.0" width="2.4" height="2.4" fill="#fff" transform="rotate(45 23.5 10.2)"/>
<rect x="2.0" y="13.4" width="2.4" height="2.4" fill="#fff" transform="rotate(45 3.2 14.6)"/>
<rect x="7.8" y="13.4" width="2.4" height="2.4" fill="#fff" transform="rotate(45 9.0 14.6)"/>
<rect x="13.6" y="13.4" width="2.4" height="2.4" fill="#fff" transform="rotate(45 14.8 14.6)"/>
<rect x="19.4" y="13.4" width="2.4" height="2.4" fill="#fff" transform="rotate(45 20.6 14.6)"/>
<rect x="10" y="-17" width="1.6" height="34" fill="#000"/>
<ellipse cx="30" cy="0" rx="9" ry="18" fill="#000"/>
<ellipse cx="29" cy="0" rx="8" ry="16.5" fill="none" stroke="#fff" stroke-width="2.2"/>
<ellipse cx="34" cy="0" rx="8" ry="15" fill="#000"/>
<ellipse cx="35" cy="0" rx="6.5" ry="12" fill="none" stroke="#fff" stroke-width="0.8"/>
<rect x="33" y="-6.3" width="31" height="12.6" fill="#fff" stroke="#000" stroke-width="1.4"/>
<rect x="33" y="-6.3" width="31" height="2.2" fill="#000"/>
<rect x="33" y="3.6" width="31" height="2.7" fill="#000"/>
<ellipse cx="64" cy="0" rx="4.2" ry="6.6" fill="#fff" stroke="#000" stroke-width="1.5"/>
<ellipse cx="64.3" cy="0.3" rx="0.9" ry="1.8" fill="#000"/>
</g>
<g transform="translate(313.5 951.0) rotate(24) scale(0.96)">
<ellipse cx="0" cy="0" rx="8" ry="17" fill="#000"/>
<rect x="0" y="-17" width="27" height="34" fill="#000"/>
<ellipse cx="27" cy="0" rx="8.5" ry="17" fill="#000"/>
<rect x="2.0" y="-13.0" width="2.4" height="2.4" fill="#fff" transform="rotate(45 3.2 -11.8)"/>
<rect x="7.8" y="-13.0" width="2.4" height="2.4" fill="#fff" transform="rotate(45 9.0 -11.8)"/>
<rect x="13.6" y="-13.0" width="2.4" height="2.4" fill="#fff" transform="rotate(45 14.8 -11.8)"/>
<rect x="19.4" y="-13.0" width="2.4" height="2.4" fill="#fff" transform="rotate(45 20.6 -11.8)"/>
<rect x="4.9" y="-8.6" width="2.4" height="2.4" fill="#fff" transform="rotate(45 6.1 -7.4)"/>
<rect x="10.7" y="-8.6" width="2.4" height="2.4" fill="#fff" transform="rotate(45 11.9 -7.4)"/>
<rect x="16.5" y="-8.6" width="2.4" height="2.4" fill="#fff" transform="rotate(45 17.7 -7.4)"/>
<rect x="22.3" y="-8.6" width="2.4" height="2.4" fill="#fff" transform="rotate(45 23.5 -7.4)"/>
<rect x="2.0" y="-4.2" width="2.4" height="2.4" fill="#fff" transform="rotate(45 3.2 -3.0)"/>
<rect x="7.8" y="-4.2" width="2.4" height="2.4" fill="#fff" transform="rotate(45 9.0 -3.0)"/>
<rect x="13.6" y="-4.2" width="2.4" height="2.4" fill="#fff" transform="rotate(45 14.8 -3.0)"/>
<rect x="19.4" y="-4.2" width="2.4" height="2.4" fill="#fff" transform="rotate(45 20.6 -3.0)"/>
<rect x="4.9" y="0.2" width="2.4" height="2.4" fill="#fff" transform="rotate(45 6.1 1.4)"/>
<rect x="10.7" y="0.2" width="2.4" height="2.4" fill="#fff" transform="rotate(45 11.9 1.4)"/>
<rect x="16.5" y="0.2" width="2.4" height="2.4" fill="#fff" transform="rotate(45 17.7 1.4)"/>
<rect x="22.3" y="0.2" width="2.4" height="2.4" fill="#fff" transform="rotate(45 23.5 1.4)"/>
<rect x="2.0" y="4.6" width="2.4" height="2.4" fill="#fff" transform="rotate(45 3.2 5.8)"/>
<rect x="7.8" y="4.6" width="2.4" height="2.4" fill="#fff" transform="rotate(45 9.0 5.8)"/>
<rect x="13.6" y="4.6" width="2.4" height="2.4" fill="#fff" transform="rotate(45 14.8 5.8)"/>
<rect x="19.4" y="4.6" width="2.4" height="2.4" fill="#fff" transform="rotate(45 20.6 5.8)"/>
<rect x="4.9" y="9.0" width="2.4" height="2.4" fill="#fff" transform="rotate(45 6.1 10.2)"/>
<rect x="10.7" y="9.0" width="2.4" height="2.4" fill="#fff" transform="rotate(45 11.9 10.2)"/>
<rect x="16.5" y="9.0" width="2.4" height="2.4" fill="#fff" transform="rotate(45 17.7 10.2)"/>
<rect x="22.3" y="9.0" width="2.4" height="2.4" fill="#fff" transform="rotate(45 23.5 10.2)"/>
<rect x="2.0" y="13.4" width="2.4" height="2.4" fill="#fff" transform="rotate(45 3.2 14.6)"/>
<rect x="7.8" y="13.4" width="2.4" height="2.4" fill="#fff" transform="rotate(45 9.0 14.6)"/>
<rect x="13.6" y="13.4" width="2.4" height="2.4" fill="#fff" transform="rotate(45 14.8 14.6)"/>
<rect x="19.4" y="13.4" width="2.4" height="2.4" fill="#fff" transform="rotate(45 20.6 14.6)"/>
<rect x="10" y="-17" width="1.6" height="34" fill="#000"/>
<ellipse cx="30" cy="0" rx="9" ry="18" fill="#000"/>
<ellipse cx="29" cy="0" rx="8" ry="16.5" fill="none" stroke="#fff" stroke-width="2.2"/>
<ellipse cx="34" cy="0" rx="8" ry="15" fill="#000"/>
<ellipse cx="35" cy="0" rx="6.5" ry="12" fill="none" stroke="#fff" stroke-width="0.8"/>
<rect x="33" y="-6.3" width="31" height="12.6" fill="#fff" stroke="#000" stroke-width="1.4"/>
<rect x="33" y="-6.3" width="31" height="2.2" fill="#000"/>
<rect x="33" y="3.6" width="31" height="2.7" fill="#000"/>
<ellipse cx="64" cy="0" rx="4.2" ry="6.6" fill="#fff" stroke="#000" stroke-width="1.5"/>
<ellipse cx="64.3" cy="0.3" rx="0.9" ry="1.8" fill="#000"/>
</g>
<path d="M389.4,956 L389.4,928.6 A4.6,4.6 0 0 1 398.6,928.6 L398.6,956" stroke="#000" stroke-width="1.3" fill="none" stroke-linejoin="round" stroke-linecap="round" />
<circle cx="394" cy="958.6" r="7.5" fill="#000"/>
<line x1="394.0" y1="927.5" x2="394.0" y2="954.0" stroke="#000" stroke-width="1.2" />
<line x1="392.4" y1="929.0" x2="395.6" y2="929.0" stroke="#000" stroke-width="1" />
<line x1="392.4" y1="932.8" x2="395.6" y2="932.8" stroke="#000" stroke-width="1" />
<line x1="392.4" y1="936.6" x2="395.6" y2="936.6" stroke="#000" stroke-width="1" />
<line x1="392.4" y1="940.4" x2="395.6" y2="940.4" stroke="#000" stroke-width="1" />
<line x1="392.4" y1="944.2" x2="395.6" y2="944.2" stroke="#000" stroke-width="1" />
<line x1="392.4" y1="948.0" x2="395.6" y2="948.0" stroke="#000" stroke-width="1" />
<path d="M468.2,956 L468.2,928.6 A4.6,4.6 0 0 1 477.40000000000003,928.6 L477.40000000000003,956" stroke="#000" stroke-width="1.3" fill="none" stroke-linejoin="round" stroke-linecap="round" />
<circle cx="472.8" cy="958.6" r="7.5" fill="#000"/>
<rect x="469.6" y="933.0" width="6.4" height="25.0" rx="0" stroke="#000" stroke-width="0" fill="#000" />
<line x1="472.8" y1="926.5" x2="472.8" y2="933.0" stroke="#000" stroke-width="1.2" />
<line x1="471.3" y1="928.5" x2="474.3" y2="928.5" stroke="#000" stroke-width="1" />
<path d="M411.0,935.4 A25.8,25.8 0 0 1 459.0,950.5" stroke="#000" stroke-width="6.8" fill="none" stroke-linejoin="round" stroke-linecap="butt" />
<path d="M455.2,962.0 A25.8,25.8 0 0 1 407.6,946.1" stroke="#000" stroke-width="6.8" fill="none" stroke-linejoin="round" stroke-linecap="butt" />
<path d="M450.6,946.0 L466.0,949.5 L455.8,957.5 Z" stroke="#000" stroke-width="0.5" fill="#000" stroke-linejoin="round" />
<path d="M400.5,946.0 L411.0,938.0 L416.0,949.5 Z" stroke="#000" stroke-width="0.5" fill="#000" stroke-linejoin="round" />
<path d="M133.5,1062 L133.5,1075 Q143,1081 152.5,1075 L152.5,1062" stroke="#000" stroke-width="1.4" fill="#fff" stroke-linejoin="round" stroke-linecap="round" />
<rect x="133.5" y="1052.0" width="19.0" height="11.0" rx="0" stroke="#000" stroke-width="0" fill="#000" />
<path d="M134,1055.5 Q143,1058 152,1055.5" stroke="#fff" stroke-width="1.1" fill="none" stroke-linejoin="round" stroke-linecap="round" />
<path d="M134,1059.5 Q143,1062 152,1059.5" stroke="#fff" stroke-width="1.1" fill="none" stroke-linejoin="round" stroke-linecap="round" />
<ellipse cx="143.0" cy="1063.0" rx="9.5" ry="2.5" transform="rotate(0 143.0 1063.0)" stroke="#000" stroke-width="1.3" fill="#fff" />
<path d="M123.0,1031.0 L126.0,1026.0 L133.0,1020.0 L149.0,1019.0 L152.0,1022.0 L162.0,1026.0 L164.0,1030.0 L164.0,1038.0 L160.0,1040.0 L160.0,1052.0 L157.0,1054.0 L155.0,1046.0 L151.0,1048.0 L146.0,1050.0 L140.0,1048.0 L137.0,1050.0 L135.0,1045.0 L128.0,1043.0 L127.0,1040.0 L124.0,1041.0 L123.0,1037.0 Z" stroke="#000" stroke-width="1.4" fill="#fff" stroke-linejoin="round" />
<path d="M123.0,1031.0 L133.0,1035.0 L146.0,1036.0 L160.0,1032.0 L164.0,1030.0" stroke="#000" stroke-width="1.2" fill="none" stroke-linejoin="round" />
<line x1="146.0" y1="1036.0" x2="146.0" y2="1050.0" stroke="#000" stroke-width="1.2" />
<line x1="133.0" y1="1035.0" x2="135.0" y2="1045.0" stroke="#000" stroke-width="1.2" />
<line x1="160.0" y1="1032.0" x2="160.0" y2="1040.0" stroke="#000" stroke-width="1.2" />
<ellipse cx="142.0" cy="1027.5" rx="9.0" ry="4.8" transform="rotate(-5 142.0 1027.5)" stroke="#000" stroke-width="1.3" fill="none" />
<ellipse cx="142.0" cy="1027.5" rx="5.5" ry="2.8" transform="rotate(-5 142.0 1027.5)" stroke="#000" stroke-width="1.3" fill="none" />
<ellipse cx="142.0" cy="1027.5" rx="2.8" ry="1.5" transform="rotate(-5 142.0 1027.5)" stroke="#000" stroke-width="1.1" fill="none" />
<defs><clipPath id="cp212"><circle cx="212" cy="1019" r="20"/></clipPath></defs>
<circle cx="212" cy="1019" r="23.4" fill="#fff" stroke="#000" stroke-width="2.3"/>
<circle cx="212" cy="1019" r="20.6" fill="none" stroke="#000" stroke-width="1.7"/>
<g clip-path="url(#cp212)">
<path d="M190,1003 L199,1005 L218,1011 Q221,1012 221,1015 L220,1018 Q219,1020 216,1019 L192,1013" stroke="#000" stroke-width="1.4" fill="#fff" stroke-linejoin="round" stroke-linecap="round" />
<path d="M192,1009 L214,1014.5 Q217,1015 217,1018" stroke="#000" stroke-width="1.1" fill="none" stroke-linejoin="round" stroke-linecap="round" />
</g>
<ellipse cx="215.0" cy="1020.5" rx="3.4" ry="2.0" transform="rotate(0 215.0 1020.5)" stroke="#000" stroke-width="1.2" fill="#fff" />
<path d="M213.0,1022.5 L217.0,1022.5 L219.5,1036.5 L209.5,1036.5 Z" stroke="#000" stroke-width="0" fill="#000" stroke-linejoin="round" />
<line x1="194.0" y1="1028.0" x2="228.0" y2="1008.0" stroke="#000" stroke-width="1.6" />
<defs><clipPath id="cp267"><circle cx="267.6" cy="1053.6" r="20"/></clipPath></defs>
<circle cx="267.6" cy="1053.6" r="23.4" fill="#fff" stroke="#000" stroke-width="2.3"/>
<circle cx="267.6" cy="1053.6" r="20.6" fill="none" stroke="#000" stroke-width="1.7"/>
<g clip-path="url(#cp267)">
<path d="M245.60000000000002,1037.6 L254.60000000000002,1039.6 L273.6,1045.6 Q276.6,1046.6 276.6,1049.6 L275.6,1052.6 Q274.6,1054.6 271.6,1053.6 L247.60000000000002,1047.6" stroke="#000" stroke-width="1.4" fill="#fff" stroke-linejoin="round" stroke-linecap="round" />
<path d="M247.60000000000002,1043.6 L269.6,1049.1 Q272.6,1049.6 272.6,1052.6" stroke="#000" stroke-width="1.1" fill="none" stroke-linejoin="round" stroke-linecap="round" />
</g>
<ellipse cx="270.6" cy="1055.1" rx="3.4" ry="2.0" transform="rotate(0 270.6 1055.1)" stroke="#000" stroke-width="1.2" fill="#fff" />
<path d="M268.6,1057.1 L272.6,1057.1 L275.1,1071.1 L265.1,1071.1 Z" stroke="#000" stroke-width="0" fill="#000" stroke-linejoin="round" />
<g transform="translate(328.5 1023.5) rotate(29)">
<rect x="0" y="-3.4" width="49" height="6.8" fill="#000" rx="1"/>
<line x1="3" y1="0.8" x2="48" y2="0.8" stroke="#fff" stroke-width="0.9"/>
<ellipse cx="48.5" cy="0" rx="2" ry="3.2" fill="#fff" stroke="#000" stroke-width="1"/>
<rect x="-1" y="-4.5" width="4" height="9" fill="#000" rx="1"/>
</g>
<g transform="translate(305.0 1059.0) rotate(27.407575437818405)">
<ellipse cx="0" cy="0" rx="3.90" ry="6.50" fill="#fff" stroke="#000" stroke-width="1.3"/>
<path d="M0,-6.50 L30.41,-6.50 L30.41,6.50 L0,6.50 Z" fill="#fff" stroke="none"/>
<path d="M0,-6.50 L30.41,-6.50 M0,6.50 L30.41,6.50" stroke="#000" stroke-width="1.3" fill="none"/>
<ellipse cx="30.41" cy="0" rx="3.90" ry="6.50" fill="#fff" stroke="#000" stroke-width="1.3"/>
</g>
<g transform="translate(305.0 1059.0) rotate(29)">
<rect x="0" y="-7" width="26" height="2.5" fill="#000"/>
</g>
<ellipse cx="329.6" cy="1071.5" rx="2.5" ry="4.0" transform="rotate(29 329.6 1071.5)" stroke="#000" stroke-width="1.1" fill="none" />
<g transform="translate(336.0 1050.0) rotate(28.88658176691071)">
<ellipse cx="0" cy="0" rx="4.50" ry="7.50" fill="#fff" stroke="#000" stroke-width="1.1"/>
<path d="M0,-7.50 L33.12,-7.50 L33.12,7.50 L0,7.50 Z" fill="#fff" stroke="none"/>
<path d="M0,-7.50 L33.12,-7.50 M0,7.50 L33.12,7.50" stroke="#000" stroke-width="1.1" fill="none"/>
<ellipse cx="33.12" cy="0" rx="4.50" ry="7.50" fill="#fff" stroke="#000" stroke-width="1.1"/>
</g>
<path d="M372.2,1070.5 L369.0,1072.8 L366.5,1076.6 L363.7,1075.8 L360.4,1077.1 L359.8,1073.6 L357.6,1071.7 L359.5,1067.5 L359.8,1063.5 L363.0,1061.2 L365.5,1057.4 L368.3,1058.2 L371.6,1056.9 L372.2,1060.4 L374.4,1062.3 L372.5,1066.5 Z" stroke="#000" stroke-width="1.2" fill="#fff" stroke-linejoin="round" />
<ellipse cx="366.5" cy="1067.0" rx="4.3" ry="7.0" transform="rotate(29 366.5 1067.0)" stroke="#000" stroke-width="1.2" fill="none" />
<line x1="426.4" y1="1010.1" x2="458.0" y2="1010.1" stroke="#777" stroke-width="1" />
<path d="M458.0,1010.1 L450.0,1008.0 L450.0,1012.2 Z" stroke="#000" stroke-width="0" fill="#777" stroke-linejoin="round" />
<line x1="458.6" y1="1005.0" x2="458.6" y2="1023.3" stroke="#777" stroke-width="1" />
<line x1="473.6" y1="1005.0" x2="473.6" y2="1029.0" stroke="#777" stroke-width="1" />
<line x1="474.2" y1="1010.1" x2="492.0" y2="1010.1" stroke="#777" stroke-width="1" />
<path d="M474.2,1010.1 L482.0,1008.0 L482.0,1012.2 Z" stroke="#000" stroke-width="0" fill="#777" stroke-linejoin="round" />
<rect x="443.0" y="1022.8" width="15.0" height="7.0" rx="0" stroke="#000" stroke-width="0" fill="#000" />
<line x1="443.0" y1="1026.3" x2="458.0" y2="1026.3" stroke="#fff" stroke-width="1.1" />
<rect x="458.0" y="1022.8" width="15.6" height="7.0" rx="0" stroke="#000" stroke-width="0" fill="#ccc" />
<line x1="458.0" y1="1026.3" x2="473.6" y2="1026.3" stroke="#fff" stroke-width="1.2" />
<path d="M388.5,1001.0 L400.0,998.5 L415.0,998.0 L415.0,1078.5 L400.0,1078.5 L388.5,1077.0 Z" stroke="#000" stroke-width="1.5" fill="#fff" stroke-linejoin="round" />
<line x1="391.5" y1="1002.0" x2="391.5" y2="1077.0" stroke="#000" stroke-width="1.1" />
<line x1="394.5" y1="1002.0" x2="394.5" y2="1077.0" stroke="#000" stroke-width="0.8" />
<line x1="402.5" y1="999.0" x2="402.5" y2="1078.0" stroke="#222" stroke-width="2.6" />
<line x1="399.0" y1="999.5" x2="399.0" y2="1078.0" stroke="#000" stroke-width="0.9" />
<line x1="407.0" y1="998.5" x2="407.0" y2="1078.5" stroke="#000" stroke-width="1.0" />
<line x1="410.5" y1="998.5" x2="410.5" y2="1078.5" stroke="#000" stroke-width="1.2" />
<line x1="413.0" y1="998.5" x2="413.0" y2="1078.5" stroke="#000" stroke-width="0.8" />
<line x1="389.0" y1="1012.0" x2="392.0" y2="1012.0" stroke="#000" stroke-width="1.2" />
<line x1="389.0" y1="1023.0" x2="392.0" y2="1023.0" stroke="#000" stroke-width="1.2" />
<line x1="389.0" y1="1047.0" x2="392.0" y2="1047.0" stroke="#000" stroke-width="1.2" />
<line x1="389.0" y1="1056.0" x2="392.0" y2="1056.0" stroke="#000" stroke-width="1.2" />
<circle cx="400.6" cy="1038.3" r="6.6" fill="#000"/>
<circle cx="400.6" cy="1038.3" r="3.6" fill="#fff"/>
<circle cx="400.6" cy="1038.3" r="1.5" fill="none" stroke="#000" stroke-width="0.8"/>
<circle cx="400.6" cy="1069.3" r="6.6" fill="#000"/>
<circle cx="400.6" cy="1069.3" r="3.6" fill="#fff"/>
<circle cx="400.6" cy="1069.3" r="1.5" fill="none" stroke="#000" stroke-width="0.8"/>
<rect x="415.0" y="1008.0" width="10.0" height="38.0" rx="0" stroke="#000" stroke-width="1.3" fill="#fff" />
<rect x="425.0" y="1012.0" width="8.0" height="30.0" rx="0" stroke="#000" stroke-width="1.3" fill="#fff" />
<line x1="419.0" y1="1008.0" x2="419.0" y2="1046.0" stroke="#000" stroke-width="0.9" />
<line x1="429.0" y1="1012.0" x2="429.0" y2="1042.0" stroke="#000" stroke-width="0.9" />
<rect x="415.0" y="1046.0" width="6.0" height="8.0" rx="0" stroke="#000" stroke-width="1.2" fill="#fff" />
<rect x="421.0" y="1047.0" width="5.0" height="6.0" rx="0" stroke="#000" stroke-width="1.1" fill="#fff" />
<rect x="415.0" y="1054.0" width="12.0" height="20.0" rx="0" stroke="#000" stroke-width="1.3" fill="#fff" />
<rect x="427.0" y="1048.0" width="7.0" height="28.0" rx="0" stroke="#000" stroke-width="1.3" fill="#fff" />
<line x1="430.5" y1="1048.0" x2="430.5" y2="1076.0" stroke="#000" stroke-width="0.9" />
<rect x="433.0" y="1018.0" width="10.0" height="16.0" rx="0" stroke="#000" stroke-width="1.3" fill="#fff" />
<rect x="435.0" y="1016.0" width="7.0" height="20.0" rx="0" stroke="#000" stroke-width="1.2" fill="none" />
<line x1="438.5" y1="1016.0" x2="438.5" y2="1036.0" stroke="#000" stroke-width="1.0" />
<rect x="431.0" y="1055.0" width="23.0" height="13.0" rx="0" stroke="#000" stroke-width="0" fill="#000" />
<line x1="432.0" y1="1059.5" x2="453.5" y2="1059.5" stroke="#fff" stroke-width="1" />
<line x1="432.0" y1="1063.5" x2="453.5" y2="1063.5" stroke="#fff" stroke-width="1" />
<text x="117" y="89.8" font-size="16" text-anchor="start" textLength="50.4" lengthAdjust="spacingAndGlyphs" >48 360</text>
<text x="420" y="158.4" font-size="16" text-anchor="start" textLength="51" lengthAdjust="spacingAndGlyphs" >49 088</text>
<text x="568.5" y="214.6" font-size="16" text-anchor="start" textLength="50.1" lengthAdjust="spacingAndGlyphs" >48 359</text>
<text x="65.4" y="349.4" font-size="16" text-anchor="start" textLength="50.6" lengthAdjust="spacingAndGlyphs" >47 979</text>
<text x="194" y="349.4" font-size="16" text-anchor="start" textLength="50" lengthAdjust="spacingAndGlyphs" >49 028</text>
<text x="603.2" y="354.8" font-size="16" text-anchor="start" textLength="48.8" lengthAdjust="spacingAndGlyphs" >48 361</text>
<text x="694.8" y="485.5" font-size="16" text-anchor="start" textLength="50.4" lengthAdjust="spacingAndGlyphs" >49 029</text>
<text x="467.6" y="554.4" font-size="16" text-anchor="start" textLength="50.3" lengthAdjust="spacingAndGlyphs" >48 362</text>
<text x="876" y="492.5" font-size="23" text-anchor="middle" >Z</text>
<text x="698.5" y="727" font-size="24" text-anchor="middle" >Y</text>
<line x1="101.7" y1="101.5" x2="114.3" y2="93.4" stroke="#000" stroke-width="1.15" />
<line x1="885.0" y1="496.7" x2="912.3" y2="511.4" stroke="#000" stroke-width="1.15" />
<line x1="707.0" y1="718.0" x2="734.0" y2="703.0" stroke="#000" stroke-width="1.15" />
<path d="M264.0,208.0 L400.0,129.2 L545.0,129.2 L545.0,280.6" stroke="#000" stroke-width="1.15" fill="none" stroke-linejoin="round" />
<line x1="444.0" y1="129.2" x2="444.0" y2="141.0" stroke="#000" stroke-width="1.15" />
<line x1="444.0" y1="162.0" x2="444.0" y2="172.0" stroke="#000" stroke-width="1.15" />
<path d="M311.0,242.0 L433.0,172.0 L508.4,172.0 L508.4,181.0" stroke="#000" stroke-width="1.15" fill="none" stroke-linejoin="round" />
<path d="M370.0,210.5 L431.0,243.0 L416.0,252.0" stroke="#000" stroke-width="1.15" fill="none" stroke-linejoin="round" />
<line x1="522.4" y1="201.0" x2="545.0" y2="201.0" stroke="#000" stroke-width="1.15" />
<line x1="481.5" y1="239.0" x2="545.0" y2="239.0" stroke="#000" stroke-width="1.15" />
<line x1="423.0" y1="262.0" x2="545.0" y2="262.0" stroke="#000" stroke-width="1.15" />
<line x1="385.5" y1="280.6" x2="545.0" y2="280.6" stroke="#000" stroke-width="1.15" />
<line x1="545.0" y1="208.0" x2="567.0" y2="208.0" stroke="#000" stroke-width="1.15" />
<path d="M126.0,276.0 L100.8,290.4 L109.8,295.8" stroke="#000" stroke-width="1.15" fill="none" stroke-linejoin="round" />
<path d="M114.0,310.8 L100.2,318.6 L121.8,330.0 L132.6,324.6" stroke="#000" stroke-width="1.15" fill="none" stroke-linejoin="round" />
<line x1="109.2" y1="325.2" x2="97.2" y2="332.4" stroke="#000" stroke-width="1.15" />
<line x1="227.2" y1="332.4" x2="242.8" y2="322.8" stroke="#000" stroke-width="1.15" />
<path d="M568.0,355.6 L612.8,376.4 L604.8,381.2" stroke="#000" stroke-width="1.15" fill="none" stroke-linejoin="round" />
<line x1="568.0" y1="355.6" x2="558.0" y2="361.5" stroke="#000" stroke-width="1.15" />
<line x1="593.6" y1="364.4" x2="602.4" y2="359.6" stroke="#000" stroke-width="1.15" />
<path d="M379.6,420.0 L353.2,431.0 L643.6,600.4 L683.9,576.6" stroke="#000" stroke-width="1.15" fill="none" stroke-linejoin="round" />
<line x1="401.6" y1="459.6" x2="537.6" y2="380.4" stroke="#000" stroke-width="1.15" />
<line x1="520.6" y1="528.3" x2="556.2" y2="507.6" stroke="#000" stroke-width="1.15" />
<line x1="527.0" y1="533.5" x2="516.0" y2="539.8" stroke="#000" stroke-width="1.15" />
<path d="M556.8,443.2 L574.4,433.6 L766.0,545.0 L743.0,558.0" stroke="#000" stroke-width="1.15" fill="none" stroke-linejoin="round" />
<line x1="608.0" y1="453.6" x2="587.2" y2="465.6" stroke="#000" stroke-width="1.15" />
<line x1="643.6" y1="474.5" x2="628.2" y2="483.8" stroke="#000" stroke-width="1.15" />
<line x1="685.4" y1="499.2" x2="694.2" y2="494.0" stroke="#000" stroke-width="1.15" />
<line x1="692.0" y1="503.6" x2="665.6" y2="519.0" stroke="#000" stroke-width="1.15" />
<line x1="711.0" y1="541.0" x2="736.0" y2="528.0" stroke="#000" stroke-width="1.15" />
<path d="M1.5,117.0 L112.0,181.4" stroke="#000" stroke-width="1.1" fill="none" stroke-linejoin="round" stroke-dasharray="30 4 4 4" />
<path d="M306.0,331.5 L372.0,369.0" stroke="#000" stroke-width="1.1" fill="none" stroke-linejoin="round" stroke-dasharray="30 4 4 4" />
<path d="M332.0,267.0 L409.0,311.0" stroke="#000" stroke-width="1.1" fill="none" stroke-linejoin="round" stroke-dasharray="30 4 4 4" />
<path d="M465.7,343.2 L514.3,371.6 L534.4,360.4 L574.0,383.0" stroke="#000" stroke-width="1.1" fill="none" stroke-linejoin="round" stroke-dasharray="30 4 4 4" />
<path d="M332.0,267.0 L478.0,184.0 L487.0,189.0" stroke="#000" stroke-width="1.1" fill="none" stroke-linejoin="round" stroke-dasharray="30 4 4 4" />
<path d="M374.0,244.0 L398.0,257.0" stroke="#000" stroke-width="1.1" fill="none" stroke-linejoin="round" stroke-dasharray="30 4 4 4" />
<path d="M452.9,417.9 L474.0,429.5" stroke="#000" stroke-width="1.1" fill="none" stroke-linejoin="round" stroke-dasharray="30 4 4 4" />
<path d="M558.0,476.0 L583.0,490.5" stroke="#000" stroke-width="1.1" fill="none" stroke-linejoin="round" stroke-dasharray="30 4 4 4" />
<path d="M695.0,557.0 L754.0,590.0" stroke="#000" stroke-width="1.1" fill="none" stroke-linejoin="round" stroke-dasharray="30 4 4 4" />
<path d="M685.0,630.0 L821.0,551.6 L869.0,579.0" stroke="#000" stroke-width="1.1" fill="none" stroke-linejoin="round" stroke-dasharray="30 4 4 4" />
<path d="M685.0,630.0 L742.0,662.0" stroke="#000" stroke-width="1.1" fill="none" stroke-linejoin="round" stroke-dasharray="30 4 4 4" />
<path d="M46.8,105.1 C52.8,100.3 62.1,95.5 68.4,93.4 C74.7,91.3 79.8,91.2 84.6,92.5 C89.4,93.8 94.2,97.9 97.2,101.5 C100.2,105.1 101.5,108.2 102.6,114.1 C103.6,119.9 104.2,130.1 103.5,136.6 C102.8,143.1 100.2,148.0 98.1,152.8 C96.0,157.6 95.2,158.8 90.9,165.4 C86.6,172.0 77.2,186.4 72.0,192.4 C66.8,198.4 63.9,198.9 59.4,201.4 C54.9,203.9 51.0,207.7 45.0,207.7 C39.0,207.7 28.2,204.6 23.4,201.4 C18.6,198.2 17.7,195.1 16.2,188.8 C14.7,182.5 13.5,171.4 14.4,163.6 C15.3,155.8 18.6,148.9 21.6,142.0 C24.6,135.1 28.2,128.3 32.4,122.2 C36.6,116.0 40.8,109.9 46.8,105.1 Z" stroke="#000" stroke-width="3.3" fill="none" stroke-linejoin="round" stroke-linecap="round" />
<ellipse cx="57.6" cy="99.7" rx="11.7" ry="7.0" transform="rotate(-12 57.6 99.7)" stroke="#000" stroke-width="4.1" fill="#fff" />
<ellipse cx="103.5" cy="124.9" rx="7.8" ry="11.7" transform="rotate(-10 103.5 124.9)" stroke="#000" stroke-width="4.1" fill="#fff" />
<ellipse cx="81.9" cy="178.0" rx="9.6" ry="13.2" transform="rotate(30 81.9 178.0)" stroke="#000" stroke-width="4.1" fill="#fff" />
<ellipse cx="13.5" cy="174.4" rx="7.4" ry="10.8" transform="rotate(-10 13.5 174.4)" stroke="#000" stroke-width="4.1" fill="#fff" />
<ellipse cx="35.0" cy="207.5" rx="12.0" ry="5.3" transform="rotate(20 35.0 207.5)" stroke="#000" stroke-width="4.1" fill="#fff" />
<ellipse cx="58.5" cy="202.0" rx="2.2" ry="2.8" transform="rotate(0 58.5 202.0)" stroke="#000" stroke-width="0" fill="#000" />
<g transform="translate(141.0 212.0) rotate(26.56505117707799)">
<ellipse cx="0" cy="0" rx="42.16" ry="68.00" fill="#fff" stroke="#000" stroke-width="1.5"/>
<path d="M0,-68.00 L10.06,-68.00 L10.06,68.00 L0,68.00 Z" fill="#fff" stroke="none"/>
<path d="M0,-68.00 L10.06,-68.00 M0,68.00 L10.06,68.00" stroke="#000" stroke-width="1.5" fill="none"/>
<ellipse cx="10.06" cy="0" rx="42.16" ry="68.00" fill="#fff" stroke="#000" stroke-width="1.5"/>
</g>
<ellipse cx="150.0" cy="216.5" rx="42.2" ry="68.0" transform="rotate(29.5 150.0 216.5)" stroke="#000" stroke-width="1.4" fill="none" />
<ellipse cx="152.5" cy="217.8" rx="40.3" ry="65.0" transform="rotate(29.5 152.5 217.8)" stroke="#000" stroke-width="1.3" fill="none" />
<ellipse cx="155.0" cy="219.0" rx="38.4" ry="62.0" transform="rotate(29.5 155.0 219.0)" stroke="#000" stroke-width="1.2" fill="none" />
<ellipse cx="156.0" cy="219.5" rx="37.5" ry="60.5" transform="rotate(29.5 156.0 219.5)" stroke="#000" stroke-width="1.2" fill="none" />
<ellipse cx="158.5" cy="220.8" rx="35.6" ry="57.5" transform="rotate(29.5 158.5 220.8)" stroke="#000" stroke-width="2.6" fill="none" />
<ellipse cx="161.0" cy="222.0" rx="33.8" ry="54.5" transform="rotate(29.5 161.0 222.0)" stroke="#000" stroke-width="1.3" fill="none" />
<ellipse cx="162.5" cy="222.8" rx="32.5" ry="52.5" transform="rotate(29.5 162.5 222.8)" stroke="#000" stroke-width="1.0" fill="none" />
<ellipse cx="164.0" cy="223.5" rx="31.3" ry="50.5" transform="rotate(29.5 164.0 223.5)" stroke="#000" stroke-width="1.6" fill="none" />
<ellipse cx="103.0" cy="232.0" rx="5.2" ry="7.0" transform="rotate(20 103.0 232.0)" stroke="#000" stroke-width="1.4" fill="#fff" />
<ellipse cx="103.0" cy="232.0" rx="3.0" ry="4.2" transform="rotate(20 103.0 232.0)" stroke="#000" stroke-width="1.2" fill="none" />
<ellipse cx="103.5" cy="232.5" rx="1.6" ry="2.4" transform="rotate(20 103.5 232.5)" stroke="#000" stroke-width="1" fill="none" />
<path d="M93,236 Q90,226 96,219 L101,222" stroke="#000" stroke-width="1.2" fill="none" stroke-linejoin="round" stroke-linecap="round" />
<ellipse cx="147.0" cy="158.5" rx="8.0" ry="5.0" transform="rotate(-10 147.0 158.5)" stroke="#000" stroke-width="1.4" fill="#fff" />
<ellipse cx="147.0" cy="158.5" rx="5.0" ry="3.0" transform="rotate(-10 147.0 158.5)" stroke="#000" stroke-width="1.2" fill="none" />
<ellipse cx="147.0" cy="158.5" rx="3.0" ry="1.7" transform="rotate(-10 147.0 158.5)" stroke="#000" stroke-width="1" fill="none" />
<path d="M127,161 Q131,152 139,151" stroke="#000" stroke-width="1.2" fill="none" stroke-linejoin="round" stroke-linecap="round" />
<ellipse cx="201.0" cy="188.0" rx="9.9" ry="16.0" transform="rotate(29.5 201.0 188.0)" stroke="#000" stroke-width="1.4" fill="#fff" />
<ellipse cx="203.0" cy="189.0" rx="8.1" ry="13.0" transform="rotate(29.5 203.0 189.0)" stroke="#000" stroke-width="2.2" fill="none" />
<ellipse cx="204.0" cy="189.5" rx="6.8" ry="11.0" transform="rotate(29.5 204.0 189.5)" stroke="#000" stroke-width="1.0" fill="none" />
<ellipse cx="146.0" cy="232.0" rx="12.4" ry="20.0" transform="rotate(29.5 146.0 232.0)" stroke="#000" stroke-width="2.2" fill="#fff" />
<ellipse cx="148.0" cy="233.0" rx="10.5" ry="17.0" transform="rotate(29.5 148.0 233.0)" stroke="#000" stroke-width="1.2" fill="none" />
<ellipse cx="180.0" cy="213.0" rx="12.1" ry="19.5" transform="rotate(29.5 180.0 213.0)" stroke="#000" stroke-width="2.2" fill="#fff" />
<ellipse cx="182.0" cy="214.0" rx="10.2" ry="16.5" transform="rotate(29.5 182.0 214.0)" stroke="#000" stroke-width="1.2" fill="none" />
<g transform="translate(142.0 228.0) rotate(29.74488129694222)">
<ellipse cx="0" cy="0" rx="7.75" ry="12.50" fill="#fff" stroke="#000" stroke-width="1.8"/>
<path d="M0,-12.50 L20.16,-12.50 L20.16,12.50 L0,12.50 Z" fill="#fff" stroke="none"/>
<path d="M0,-12.50 L20.16,-12.50 M0,12.50 L20.16,12.50" stroke="#000" stroke-width="1.8" fill="none"/>
<ellipse cx="20.16" cy="0" rx="7.75" ry="12.50" fill="#fff" stroke="#000" stroke-width="1.8"/>
</g>
<ellipse cx="159.5" cy="238.0" rx="6.8" ry="11.0" transform="rotate(29.5 159.5 238.0)" stroke="#000" stroke-width="0" fill="#000" />
<ellipse cx="159.5" cy="238.0" rx="4.7" ry="7.5" transform="rotate(29.5 159.5 238.0)" stroke="#000" stroke-width="0" fill="#fff" />
<ellipse cx="159.5" cy="238.0" rx="3.1" ry="5.0" transform="rotate(29.5 159.5 238.0)" stroke="#000" stroke-width="1.6" fill="none" />
<ellipse cx="159.5" cy="238.0" rx="1.2" ry="2.0" transform="rotate(29.5 159.5 238.0)" stroke="#000" stroke-width="0" fill="#000" />
<g transform="translate(176.0 209.0) rotate(30.256437163529263)">
<ellipse cx="0" cy="0" rx="7.75" ry="12.50" fill="#fff" stroke="#000" stroke-width="1.8"/>
<path d="M0,-12.50 L20.84,-12.50 L20.84,12.50 L0,12.50 Z" fill="#fff" stroke="none"/>
<path d="M0,-12.50 L20.84,-12.50 M0,12.50 L20.84,12.50" stroke="#000" stroke-width="1.8" fill="none"/>
<ellipse cx="20.84" cy="0" rx="7.75" ry="12.50" fill="#fff" stroke="#000" stroke-width="1.8"/>
</g>
<ellipse cx="194.0" cy="219.5" rx="6.8" ry="11.0" transform="rotate(29.5 194.0 219.5)" stroke="#000" stroke-width="0" fill="#000" />
<ellipse cx="194.0" cy="219.5" rx="4.7" ry="7.5" transform="rotate(29.5 194.0 219.5)" stroke="#000" stroke-width="0" fill="#fff" />
<ellipse cx="194.0" cy="219.5" rx="3.1" ry="5.0" transform="rotate(29.5 194.0 219.5)" stroke="#000" stroke-width="1.6" fill="none" />
<ellipse cx="194.0" cy="219.5" rx="1.2" ry="2.0" transform="rotate(29.5 194.0 219.5)" stroke="#000" stroke-width="0" fill="#000" />
<path d="M134.0,243.0 L150.0,252.0 L160.0,249.0" stroke="#000" stroke-width="1.3" fill="none" stroke-linejoin="round" />
<path d="M168.0,224.0 L184.0,232.0 L193.0,230.0" stroke="#000" stroke-width="1.3" fill="none" stroke-linejoin="round" />
<ellipse cx="151.1" cy="199.0" rx="6.5" ry="10.5" transform="rotate(29.5 151.1 199.0)" stroke="#000" stroke-width="2.8" fill="#fff" />
<ellipse cx="151.6" cy="199.5" rx="5.3" ry="8.5" transform="rotate(29.5 151.6 199.5)" stroke="#000" stroke-width="1.2" fill="#fff" />
<path d="M159.3,201.1 L154.9,205.8 L148.2,204.7 L145.9,198.9 L150.3,194.2 L157.0,195.3 Z" stroke="#000" stroke-width="1.4" fill="#fff" stroke-linejoin="round" />
<ellipse cx="153.6" cy="200.5" rx="3.4" ry="4.2" transform="rotate(25 153.6 200.5)" stroke="#000" stroke-width="1.3" fill="none" />
<ellipse cx="181.9" cy="183.6" rx="6.5" ry="10.5" transform="rotate(29.5 181.9 183.6)" stroke="#000" stroke-width="2.8" fill="#fff" />
<ellipse cx="182.4" cy="184.1" rx="5.3" ry="8.5" transform="rotate(29.5 182.4 184.1)" stroke="#000" stroke-width="1.2" fill="#fff" />
<path d="M190.1,185.7 L185.7,190.4 L179.0,189.3 L176.7,183.5 L181.1,178.8 L187.8,179.9 Z" stroke="#000" stroke-width="1.4" fill="#fff" stroke-linejoin="round" />
<ellipse cx="184.4" cy="185.1" rx="3.4" ry="4.2" transform="rotate(25 184.4 185.1)" stroke="#000" stroke-width="1.3" fill="none" />
<ellipse cx="148.9" cy="272.0" rx="6.5" ry="10.5" transform="rotate(29.5 148.9 272.0)" stroke="#000" stroke-width="2.8" fill="#fff" />
<ellipse cx="149.4" cy="272.5" rx="5.3" ry="8.5" transform="rotate(29.5 149.4 272.5)" stroke="#000" stroke-width="1.2" fill="#fff" />
<path d="M157.1,274.1 L152.7,278.8 L146.0,277.7 L143.7,271.9 L148.1,267.2 L154.8,268.3 Z" stroke="#000" stroke-width="1.4" fill="#fff" stroke-linejoin="round" />
<ellipse cx="151.4" cy="273.5" rx="3.4" ry="4.2" transform="rotate(25 151.4 273.5)" stroke="#000" stroke-width="1.3" fill="none" />
<ellipse cx="200.5" cy="240.0" rx="6.5" ry="10.5" transform="rotate(29.5 200.5 240.0)" stroke="#000" stroke-width="2.8" fill="#fff" />
<ellipse cx="201.0" cy="240.5" rx="5.3" ry="8.5" transform="rotate(29.5 201.0 240.5)" stroke="#000" stroke-width="1.2" fill="#fff" />
<path d="M208.7,242.1 L204.3,246.8 L197.6,245.7 L195.3,239.9 L199.7,235.2 L206.4,236.3 Z" stroke="#000" stroke-width="1.4" fill="#fff" stroke-linejoin="round" />
<ellipse cx="203.0" cy="241.5" rx="3.4" ry="4.2" transform="rotate(25 203.0 241.5)" stroke="#000" stroke-width="1.3" fill="none" />
<ellipse cx="181.0" cy="261.0" rx="13.0" ry="21.5" transform="rotate(28 181.0 261.0)" stroke="#000" stroke-width="1.4" fill="none" />
<ellipse cx="181.0" cy="261.0" rx="11.5" ry="20.0" transform="rotate(28 181.0 261.0)" stroke="#000" stroke-width="1.0" fill="none" />
<path d="M135,214 Q137,208 142,206" stroke="#000" stroke-width="1.3" fill="none" stroke-linejoin="round" stroke-linecap="round" />
<path d="M132,222 Q133,218 137,216" stroke="#000" stroke-width="1.3" fill="none" stroke-linejoin="round" stroke-linecap="round" />
<ellipse cx="132.5" cy="252.0" rx="2.6" ry="3.3" transform="rotate(0 132.5 252.0)" stroke="#000" stroke-width="1.2" fill="none" />
<ellipse cx="134.0" cy="262.0" rx="2.0" ry="2.5" transform="rotate(0 134.0 262.0)" stroke="#000" stroke-width="0" fill="#000" />
<ellipse cx="135.5" cy="266.0" rx="1.8" ry="2.6" transform="rotate(20 135.5 266.0)" stroke="#000" stroke-width="1.2" fill="none" />
<ellipse cx="192.0" cy="163.0" rx="2.8" ry="2.8" transform="rotate(0 192.0 163.0)" stroke="#000" stroke-width="1.2" fill="none" />
<ellipse cx="187.0" cy="165.0" rx="2.2" ry="1.8" transform="rotate(0 187.0 165.0)" stroke="#000" stroke-width="0" fill="#000" />
<line x1="123.0" y1="262.0" x2="129.0" y2="268.0" stroke="#000" stroke-width="1.2" />
<path d="M138,196 Q141,189 146,187" stroke="#000" stroke-width="1.2" fill="none" stroke-linejoin="round" stroke-linecap="round" />
<path d="M136,250 Q140,257 148,259" stroke="#000" stroke-width="2.2" fill="none" stroke-linejoin="round" stroke-linecap="round" />
<path d="M170,232 Q175,239 183,240" stroke="#000" stroke-width="2.2" fill="none" stroke-linejoin="round" stroke-linecap="round" />
<ellipse cx="137.5" cy="258.0" rx="1.8" ry="2.5" transform="rotate(0 137.5 258.0)" stroke="#000" stroke-width="0" fill="#000" />
<ellipse cx="140.0" cy="266.0" rx="1.6" ry="2.2" transform="rotate(0 140.0 266.0)" stroke="#000" stroke-width="0" fill="#000" />
<path d="M118,228 L122,218 L128,214" stroke="#000" stroke-width="1.2" fill="none" stroke-linejoin="round" stroke-linecap="round" />
<path d="M116,240 L121,247" stroke="#000" stroke-width="1.2" fill="none" stroke-linejoin="round" stroke-linecap="round" />
<g transform="translate(212.0 201.5) rotate(25.6)">
<path d="M0,-13 L30,-13.5 L30,13.5 L0,13 Z" fill="#fff" stroke="none"/>
<path d="M2,-13 L30,-13.5 M2,13 L30,13.5" stroke="#000" stroke-width="1.4" fill="none"/>
<rect x="7" y="-13.5" width="8" height="27" fill="#000"/>
<ellipse cx="0" cy="0" rx="7.5" ry="13.5" fill="#000"/>
<ellipse cx="2.5" cy="0" rx="5" ry="10" fill="#fff"/>
<rect x="2.5" y="-10" width="4.5" height="20" fill="#fff"/>
<path d="M20,-13.5 Q16,0 20,13.5" stroke="#000" stroke-width="1.6" fill="none"/>
<path d="M23,-13.5 Q19,0 23,13.5" stroke="#000" stroke-width="1.1" fill="none"/>
<path d="M30,-10 L62,-10 L62,10 L30,10 Z" fill="#fff" stroke="none"/>
<path d="M30,-10 L62,-10 M30,10 L62,10" stroke="#000" stroke-width="1.4" fill="none"/>
<ellipse cx="30" cy="0" rx="6.5" ry="12.5" fill="none" stroke="#000" stroke-width="1.6" />
<rect x="30" y="-10" width="2" height="20" fill="#fff"/>
<path d="M30,-10 Q25,0 30,10" stroke="#000" stroke-width="1.4" fill="none"/>
<ellipse cx="60" cy="0" rx="6" ry="10.5" fill="#000"/>
<ellipse cx="62.5" cy="0" rx="4.5" ry="8.5" fill="#000" stroke="#fff" stroke-width="0.8"/>
<ellipse cx="63" cy="0" rx="2" ry="4" fill="#fff"/>
<rect x="20" y="-3" width="8" height="2" fill="#000"/><rect x="22" y="2" width="6" height="1.6" fill="#000"/>
</g>
<g transform="translate(209.0 228.0) rotate(32.27564431457763)">
<rect x="0" y="-5.0" width="56.2" height="10.0" fill="#666" stroke="#000" stroke-width="1.4"/>
<line x1="2" y1="2.5" x2="55.2" y2="2.5" stroke="#fff" stroke-width="1.2"/>
<line x1="2" y1="4.1" x2="55.2" y2="4.1" stroke="#000" stroke-width="1"/>
<ellipse cx="56.2" cy="0" rx="3.0" ry="5.0" fill="#333" stroke="#000" stroke-width="1.4"/>
<line x1="55.2" y1="1.5" x2="57.7" y2="1.5" stroke="#fff" stroke-width="1.2"/>
<rect x="-1" y="-6.3" width="3" height="12.6" rx="1" fill="#000"/>
<rect x="3.5" y="-6.0" width="2" height="12.0" rx="0.8" fill="#000"/>
</g>
<g transform="translate(175.0 246.0) rotate(31.900156917733717)">
<rect x="0" y="-5.0" width="57.7" height="10.0" fill="#666" stroke="#000" stroke-width="1.4"/>
<line x1="2" y1="2.5" x2="56.7" y2="2.5" stroke="#fff" stroke-width="1.2"/>
<line x1="2" y1="4.1" x2="56.7" y2="4.1" stroke="#000" stroke-width="1"/>
<ellipse cx="57.7" cy="0" rx="3.0" ry="5.0" fill="#333" stroke="#000" stroke-width="1.4"/>
<line x1="56.7" y1="1.5" x2="59.2" y2="1.5" stroke="#fff" stroke-width="1.2"/>
<rect x="-1" y="-6.3" width="3" height="12.6" rx="1" fill="#000"/>
<rect x="3.5" y="-6.0" width="2" height="12.0" rx="0.8" fill="#000"/>
</g>
<g transform="translate(274.0 236.0) rotate(28.361194329573717)">
<rect x="0" y="-5.0" width="64.2" height="10.0" fill="#666" stroke="#000" stroke-width="1.4"/>
<line x1="2" y1="2.5" x2="63.2" y2="2.5" stroke="#fff" stroke-width="1.2"/>
<line x1="2" y1="4.1" x2="63.2" y2="4.1" stroke="#000" stroke-width="1"/>
<ellipse cx="64.2" cy="0" rx="3.0" ry="5.0" fill="#333" stroke="#000" stroke-width="1.4"/>
<line x1="63.2" y1="1.5" x2="65.7" y2="1.5" stroke="#fff" stroke-width="1.2"/>
<rect x="-1" y="-6.3" width="3" height="12.6" rx="1" fill="#000"/>
<rect x="3.5" y="-6.0" width="2" height="12.0" rx="0.8" fill="#000"/>
</g>
<g transform="translate(114.5 300.5) rotate(25.559965171823812)">
<ellipse cx="0" cy="0" rx="4.46" ry="7.20" fill="#fff" stroke="#000" stroke-width="1.4"/>
<path d="M0,-7.20 L12.75,-7.20 L12.75,7.20 L0,7.20 Z" fill="#fff" stroke="none"/>
<path d="M0,-7.20 L12.75,-7.20 M0,7.20 L12.75,7.20" stroke="#000" stroke-width="1.4" fill="none"/>
<ellipse cx="12.75" cy="0" rx="4.46" ry="7.20" fill="#fff" stroke="#000" stroke-width="1.4"/>
</g>
<ellipse cx="114.5" cy="300.5" rx="5.0" ry="8.0" transform="rotate(29.5 114.5 300.5)" stroke="#000" stroke-width="3.0" fill="#fff" />
<ellipse cx="126.0" cy="306.0" rx="4.2" ry="6.8" transform="rotate(29.5 126.0 306.0)" stroke="#000" stroke-width="2.6" fill="#fff" />
<ellipse cx="126.5" cy="306.3" rx="2.2" ry="3.5" transform="rotate(29.5 126.5 306.3)" stroke="#000" stroke-width="1.4" fill="none" />
<g transform="translate(114.5 300.5) rotate(25.6)">
<rect x="5" y="-5" width="3.5" height="10" fill="#000"/>
<rect x="9" y="-7.2" width="2" height="14.4" fill="#000"/>
</g>
<g transform="translate(136.0 314.0) rotate(26.56505117707799)">
<ellipse cx="0" cy="0" rx="7.13" ry="11.50" fill="#fff" stroke="#000" stroke-width="3.2"/>
<path d="M0,-11.50 L4.47,-11.50 L4.47,11.50 L0,11.50 Z" fill="#fff" stroke="none"/>
<path d="M0,-11.50 L4.47,-11.50 M0,11.50 L4.47,11.50" stroke="#000" stroke-width="3.2" fill="none"/>
<ellipse cx="4.47" cy="0" rx="7.13" ry="11.50" fill="#fff" stroke="#000" stroke-width="3.2"/>
</g>
<ellipse cx="138.5" cy="315.2" rx="6.3" ry="10.2" transform="rotate(29.5 138.5 315.2)" stroke="#000" stroke-width="1.3" fill="none" />
<ellipse cx="140.0" cy="316.0" rx="5.6" ry="9.0" transform="rotate(29.5 140.0 316.0)" stroke="#000" stroke-width="1.0" fill="none" />
<path d="M156.4,320.3 L151.2,325.8 L143.4,324.5 L140.6,317.7 L145.8,312.2 L153.6,313.5 Z" stroke="#000" stroke-width="1.4" fill="#fff" stroke-linejoin="round" />
<ellipse cx="152.5" cy="320.5" rx="4.2" ry="6.8" transform="rotate(29.5 152.5 320.5)" stroke="#000" stroke-width="1.4" fill="#fff" />
<line x1="141.0" y1="312.0" x2="145.0" y2="309.0" stroke="#000" stroke-width="1.2" />
<defs>
<pattern id="knurl" width="4.2" height="4.2" patternUnits="userSpaceOnUse" patternTransform="rotate(45)">
<rect width="4.2" height="4.2" fill="#000"/><rect x="1.1" y="1.1" width="2.2" height="2.2" fill="#fff"/></pattern>
<pattern id="knurl2" width="5" height="5" patternUnits="userSpaceOnUse" patternTransform="rotate(45)">
<rect width="5" height="5" fill="#000"/><rect x="0.8" y="0.8" width="3.4" height="3.4" fill="#fff"/></pattern>
<pattern id="knurl3" width="4.6" height="4.6" patternUnits="userSpaceOnUse" patternTransform="rotate(45)">
<rect width="4.6" height="4.6" fill="#fff"/><rect x="0" y="0" width="4.6" height="1.3" fill="#000"/><rect x="0" y="0" width="1.3" height="4.6" fill="#000"/></pattern>
</defs>
<g transform="translate(244.0 299.5) rotate(27.6)">
<ellipse cx="0" cy="0" rx="11" ry="20" fill="#000"/>
<rect x="0" y="-20" width="26" height="40" fill="url(#knurl2)"/>
<ellipse cx="0" cy="0" rx="11" ry="20" fill="url(#knurl2)" stroke="#000" stroke-width="2.2"/>
<ellipse cx="-2.5" cy="0" rx="8" ry="17" fill="#000"/>
<path d="M0,-20 L26,-20 M0,20 L26,20" stroke="#000" stroke-width="2.2"/>
<rect x="12" y="-20" width="2.2" height="40" fill="#000"/>
<ellipse cx="27" cy="0" rx="11.5" ry="20.5" fill="#000"/>
<ellipse cx="29" cy="0" rx="11" ry="19.5" fill="none" stroke="#fff" stroke-width="2.4"/>
<ellipse cx="33" cy="0" rx="9.5" ry="16" fill="#000"/>
<ellipse cx="35" cy="0" rx="8.5" ry="14" fill="none" stroke="#fff" stroke-width="1"/>
<ellipse cx="37" cy="0" rx="7" ry="11.5" fill="none" stroke="#fff" stroke-width="0.8"/>
<rect x="40" y="-8.8" width="32" height="17.6" fill="#000"/>
<line x1="41" y1="-4.5" x2="71" y2="-4.5" stroke="#fff" stroke-width="2.4"/>
<line x1="41" y1="-0.5" x2="71" y2="-0.5" stroke="#fff" stroke-width="0.9"/>
<line x1="41" y1="3" x2="71" y2="3" stroke="#fff" stroke-width="0.9"/>
<line x1="41" y1="6" x2="71" y2="6" stroke="#fff" stroke-width="0.7"/>
<ellipse cx="72" cy="0" rx="5.8" ry="9" fill="#fff" stroke="#000" stroke-width="1.6"/>
<ellipse cx="72" cy="0.5" rx="1.2" ry="2" fill="#000"/>
</g>
<g transform="translate(363.0 282.0) rotate(29.357753542791276)">
<ellipse cx="0" cy="0" rx="11.16" ry="18.00" fill="#fff" stroke="#000" stroke-width="1.4"/>
<path d="M0,-18.00 L9.18,-18.00 L9.18,18.00 L0,18.00 Z" fill="#fff" stroke="none"/>
<path d="M0,-18.00 L9.18,-18.00 M0,18.00 L9.18,18.00" stroke="#000" stroke-width="1.4" fill="none"/>
<ellipse cx="9.18" cy="0" rx="11.16" ry="18.00" fill="#fff" stroke="#000" stroke-width="1.4"/>
</g>
<ellipse cx="371.0" cy="286.5" rx="8.7" ry="14.0" transform="rotate(29.5 371.0 286.5)" stroke="#000" stroke-width="1.3" fill="none" />
<ellipse cx="372.0" cy="287.0" rx="6.8" ry="11.0" transform="rotate(29.5 372.0 287.0)" stroke="#000" stroke-width="1.2" fill="none" />
<ellipse cx="373.0" cy="287.5" rx="5.9" ry="9.5" transform="rotate(29.5 373.0 287.5)" stroke="#000" stroke-width="1.0" fill="none" />
<g transform="translate(398.0 257.5) rotate(27.82409638425326)">
<ellipse cx="0" cy="0" rx="6.20" ry="10.00" fill="#fff" stroke="#000" stroke-width="1.4"/>
<path d="M0,-10.00 L20.35,-10.00 L20.35,10.00 L0,10.00 Z" fill="#fff" stroke="none"/>
<path d="M0,-10.00 L20.35,-10.00 M0,10.00 L20.35,10.00" stroke="#000" stroke-width="1.4" fill="none"/>
<ellipse cx="20.35" cy="0" rx="6.20" ry="10.00" fill="#fff" stroke="#000" stroke-width="1.4"/>
</g>
<ellipse cx="416.0" cy="267.0" rx="5.0" ry="8.0" transform="rotate(29.5 416.0 267.0)" stroke="#000" stroke-width="1.2" fill="none" />
<line x1="403.8" y1="249.5" x2="406.4" y2="251.0" stroke="#000" stroke-width="1.6" />
<line x1="405.3" y1="253.1" x2="407.9" y2="254.6" stroke="#000" stroke-width="1.6" />
<line x1="404.5" y1="258.0" x2="407.1" y2="259.5" stroke="#000" stroke-width="1.6" />
<line x1="401.8" y1="262.8" x2="404.4" y2="264.3" stroke="#000" stroke-width="1.6" />
<line x1="398.0" y1="266.0" x2="400.6" y2="267.5" stroke="#000" stroke-width="1.6" />
<line x1="413.0" y1="258.5" x2="419.0" y2="262.0" stroke="#000" stroke-width="0.9" />
<line x1="413.3" y1="262.0" x2="419.3" y2="265.5" stroke="#000" stroke-width="0.9" />
<line x1="413.6" y1="265.5" x2="419.6" y2="269.0" stroke="#000" stroke-width="0.9" />
<line x1="413.9" y1="269.0" x2="419.9" y2="272.5" stroke="#000" stroke-width="0.9" />
<g transform="translate(441.0 219.5) rotate(27.85965069524227)">
<ellipse cx="0" cy="0" rx="7.44" ry="12.00" fill="#fff" stroke="#000" stroke-width="1.4"/>
<path d="M0,-12.00 L39.59,-12.00 L39.59,12.00 L0,12.00 Z" fill="#fff" stroke="none"/>
<path d="M0,-12.00 L39.59,-12.00 M0,12.00 L39.59,12.00" stroke="#000" stroke-width="1.4" fill="none"/>
<ellipse cx="39.59" cy="0" rx="7.44" ry="12.00" fill="#fff" stroke="#000" stroke-width="1.4"/>
</g>
<ellipse cx="476.0" cy="238.0" rx="6.2" ry="10.0" transform="rotate(29.5 476.0 238.0)" stroke="#000" stroke-width="1.2" fill="none" />
<line x1="471.5" y1="232.0" x2="480.0" y2="236.5" stroke="#000" stroke-width="0.9" />
<line x1="471.5" y1="235.2" x2="480.0" y2="239.7" stroke="#000" stroke-width="0.9" />
<line x1="471.5" y1="238.4" x2="480.0" y2="242.9" stroke="#000" stroke-width="0.9" />
<line x1="471.5" y1="241.6" x2="480.0" y2="246.1" stroke="#000" stroke-width="0.9" />
<g transform="translate(441.0 219.5) rotate(28)">
<line x1="-3" y1="-11" x2="3" y2="-11" stroke="#000" stroke-width="2"/>
<line x1="-3" y1="-6" x2="3" y2="-6" stroke="#000" stroke-width="2"/>
<line x1="-3" y1="-1" x2="3" y2="-1" stroke="#000" stroke-width="2"/>
<line x1="-3" y1="4" x2="3" y2="4" stroke="#000" stroke-width="2"/>
<line x1="-3" y1="9" x2="3" y2="9" stroke="#000" stroke-width="2"/>
</g>
<g transform="translate(492.0 195.0) rotate(23.805943518457717)">
<ellipse cx="0" cy="0" rx="10.54" ry="17.00" fill="#fff" stroke="#000" stroke-width="1.5"/>
<path d="M0,-17.00 L18.58,-17.00 L18.58,17.00 L0,17.00 Z" fill="#fff" stroke="none"/>
<path d="M0,-17.00 L18.58,-17.00 M0,17.00 L18.58,17.00" stroke="#000" stroke-width="1.5" fill="none"/>
<ellipse cx="18.58" cy="0" rx="10.54" ry="17.00" fill="#fff" stroke="#000" stroke-width="1.5"/>
</g>
<ellipse cx="509.0" cy="202.5" rx="9.3" ry="15.0" transform="rotate(29.5 509.0 202.5)" stroke="#000" stroke-width="1.0" fill="none" />
<ellipse cx="510.0" cy="203.0" rx="2.8" ry="4.5" transform="rotate(29.5 510.0 203.0)" stroke="#000" stroke-width="1.8" fill="none" />
<line x1="504.0" y1="188.0" x2="508.0" y2="185.5" stroke="#000" stroke-width="2.2" />
<ellipse cx="416.5" cy="362.7" rx="50.7" ry="76.8" transform="rotate(29.5 416.5 362.7)" stroke="#000" stroke-width="1.4" fill="#fff" />
<ellipse cx="418.8" cy="364.0" rx="48.7" ry="73.8" transform="rotate(29.5 418.8 364.0)" stroke="#000" stroke-width="3.4" fill="none" />
<ellipse cx="421.2" cy="365.2" rx="46.3" ry="70.2" transform="rotate(29.5 421.2 365.2)" stroke="#000" stroke-width="1.3" fill="none" />
<ellipse cx="423.0" cy="366.2" rx="44.4" ry="67.2" transform="rotate(29.5 423.0 366.2)" stroke="#000" stroke-width="3.0" fill="#000" />
<path d="M459.2,389.5 L448.4,404.0 L444.5,395.6 L451.7,386.1 Z" stroke="#000" stroke-width="0" fill="#fff" stroke-linejoin="round" />
<path d="M449.4,386.5 L441.9,395.9 L439.5,389.4 L444.0,383.8 Z" stroke="#000" stroke-width="0" fill="#fff" stroke-linejoin="round" />
<line x1="455.0" y1="393.6" x2="447.8" y2="394.3" stroke="#000" stroke-width="1.1" />
<path d="M443.3,409.1 L429.8,418.8 L429.8,407.8 L438.7,401.4 Z" stroke="#000" stroke-width="0" fill="#fff" stroke-linejoin="round" />
<path d="M436.8,400.7 L427.7,406.7 L428.2,398.6 L433.6,395.0 Z" stroke="#000" stroke-width="0" fill="#fff" stroke-linejoin="round" />
<line x1="438.6" y1="411.2" x2="432.8" y2="408.2" stroke="#000" stroke-width="1.1" />
<path d="M424.1,421.5 L410.4,424.6 L414.3,412.9 L423.3,410.9 Z" stroke="#000" stroke-width="0" fill="#fff" stroke-linejoin="round" />
<path d="M422.1,409.1 L413.1,410.7 L416.3,402.3 L421.7,401.3 Z" stroke="#000" stroke-width="0" fill="#fff" stroke-linejoin="round" />
<line x1="419.8" y1="421.2" x2="416.4" y2="414.9" stroke="#000" stroke-width="1.1" />
<path d="M405.1,424.4 L393.5,420.4 L400.6,410.1 L408.2,412.7 Z" stroke="#000" stroke-width="0" fill="#fff" stroke-linejoin="round" />
<path d="M408.0,410.2 L400.5,407.1 L405.9,399.9 L410.4,401.7 Z" stroke="#000" stroke-width="0" fill="#fff" stroke-linejoin="round" />
<line x1="401.9" y1="421.8" x2="401.5" y2="413.3" stroke="#000" stroke-width="1.1" />
<path d="M389.5,417.4 L382.1,407.0 L391.2,399.8 L396.1,406.6 Z" stroke="#000" stroke-width="0" fill="#fff" stroke-linejoin="round" />
<path d="M396.7,403.8 L392.1,396.5 L398.8,391.8 L401.6,396.1 Z" stroke="#000" stroke-width="0" fill="#fff" stroke-linejoin="round" />
<line x1="388.0" y1="413.0" x2="390.7" y2="403.7" stroke="#000" stroke-width="1.1" />
<path d="M380.1,401.7 L378.1,386.7 L387.6,383.9 L388.9,393.7 Z" stroke="#000" stroke-width="0" fill="#fff" stroke-linejoin="round" />
<path d="M390.4,391.1 L389.5,380.9 L396.2,379.4 L396.8,385.5 Z" stroke="#000" stroke-width="0" fill="#fff" stroke-linejoin="round" />
<line x1="380.5" y1="396.1" x2="385.8" y2="387.8" stroke="#000" stroke-width="1.1" />
<path d="M378.5,380.0 L382.2,363.0 L390.4,365.0 L388.0,376.2 Z" stroke="#000" stroke-width="0" fill="#fff" stroke-linejoin="round" />
<path d="M390.0,374.2 L392.9,362.8 L398.7,364.9 L396.9,371.6 Z" stroke="#000" stroke-width="0" fill="#fff" stroke-linejoin="round" />
<line x1="380.7" y1="374.3" x2="387.7" y2="368.3" stroke="#000" stroke-width="1.1" />
<path d="M384.8,356.0 L393.7,340.0 L399.3,346.5 L393.4,357.1 Z" stroke="#000" stroke-width="0" fill="#fff" stroke-linejoin="round" />
<path d="M395.7,356.1 L402.0,345.5 L405.6,350.7 L401.9,357.0 Z" stroke="#000" stroke-width="0" fill="#fff" stroke-linejoin="round" />
<line x1="388.6" y1="351.2" x2="396.0" y2="348.5" stroke="#000" stroke-width="1.1" />
<path d="M398.2,334.0 L410.6,321.6 L412.6,331.5 L404.4,339.7 Z" stroke="#000" stroke-width="0" fill="#fff" stroke-linejoin="round" />
<path d="M406.5,339.8 L415.0,331.9 L415.9,339.4 L410.9,344.1 Z" stroke="#000" stroke-width="0" fill="#fff" stroke-linejoin="round" />
<line x1="402.7" y1="330.8" x2="409.4" y2="332.0" stroke="#000" stroke-width="1.1" />
<path d="M416.1,317.6 L430.0,311.1 L428.0,322.7 L418.9,327.0 Z" stroke="#000" stroke-width="0" fill="#fff" stroke-linejoin="round" />
<path d="M420.4,328.3 L429.7,324.4 L427.8,332.8 L422.3,335.1 Z" stroke="#000" stroke-width="0" fill="#fff" stroke-linejoin="round" />
<line x1="420.7" y1="316.7" x2="425.4" y2="321.5" stroke="#000" stroke-width="1.1" />
<path d="M435.6,309.8 L448.5,310.3 L442.9,321.5 L434.4,321.2 Z" stroke="#000" stroke-width="0" fill="#fff" stroke-linejoin="round" />
<path d="M435.2,323.4 L443.6,324.2 L439.2,332.2 L434.2,331.7 Z" stroke="#000" stroke-width="0" fill="#fff" stroke-linejoin="round" />
<line x1="439.5" y1="311.3" x2="441.4" y2="318.8" stroke="#000" stroke-width="1.1" />
<path d="M453.3,311.9 L463.0,319.2 L454.8,328.2 L448.4,323.4 Z" stroke="#000" stroke-width="0" fill="#fff" stroke-linejoin="round" />
<path d="M448.1,326.1 L454.3,331.4 L448.1,337.6 L444.5,334.4 Z" stroke="#000" stroke-width="0" fill="#fff" stroke-linejoin="round" />
<line x1="455.7" y1="315.5" x2="454.5" y2="324.5" stroke="#000" stroke-width="1.1" />
<path d="M466.1,323.5 L470.9,336.5 L461.4,341.6 L458.3,333.1 Z" stroke="#000" stroke-width="0" fill="#fff" stroke-linejoin="round" />
<path d="M457.1,335.8 L460.0,344.8 L453.1,348.0 L451.4,342.7 Z" stroke="#000" stroke-width="0" fill="#fff" stroke-linejoin="round" />
<line x1="466.7" y1="328.6" x2="462.5" y2="337.6" stroke="#000" stroke-width="1.1" />
<path d="M471.7,342.6 L470.9,359.0 L461.8,359.4 L462.4,348.6 Z" stroke="#000" stroke-width="0" fill="#fff" stroke-linejoin="round" />
<path d="M460.6,351.0 L459.6,362.0 L453.2,361.8 L453.7,355.2 Z" stroke="#000" stroke-width="0" fill="#fff" stroke-linejoin="round" />
<line x1="470.4" y1="348.4" x2="464.1" y2="355.7" stroke="#000" stroke-width="1.1" />
<path d="M469.3,366.0 L462.9,382.9 L455.8,378.5 L460.1,367.4 Z" stroke="#000" stroke-width="0" fill="#fff" stroke-linejoin="round" />
<path d="M457.8,368.9 L453.2,380.1 L448.4,376.4 L451.1,369.8 Z" stroke="#000" stroke-width="0" fill="#fff" stroke-linejoin="round" />
<line x1="466.3" y1="371.4" x2="458.9" y2="375.8" stroke="#000" stroke-width="1.1" />
<ellipse cx="450.5" cy="392.0" rx="3.4" ry="4.5" transform="rotate(29.5 450.5 392.0)" stroke="#000" stroke-width="1.4" fill="#fff" />
<ellipse cx="450.5" cy="392.0" rx="1.6" ry="2.1" transform="rotate(29.5 450.5 392.0)" stroke="#000" stroke-width="1.1" fill="none" />
<ellipse cx="424.6" cy="413.4" rx="3.4" ry="4.5" transform="rotate(29.5 424.6 413.4)" stroke="#000" stroke-width="1.4" fill="#fff" />
<ellipse cx="424.6" cy="413.4" rx="1.6" ry="2.1" transform="rotate(29.5 424.6 413.4)" stroke="#000" stroke-width="1.1" fill="none" />
<ellipse cx="398.9" cy="413.1" rx="3.4" ry="4.5" transform="rotate(29.5 398.9 413.1)" stroke="#000" stroke-width="1.4" fill="#fff" />
<ellipse cx="398.9" cy="413.1" rx="1.6" ry="2.1" transform="rotate(29.5 398.9 413.1)" stroke="#000" stroke-width="1.1" fill="none" />
<ellipse cx="385.4" cy="391.3" rx="3.4" ry="4.5" transform="rotate(29.5 385.4 391.3)" stroke="#000" stroke-width="1.4" fill="#fff" />
<ellipse cx="385.4" cy="391.3" rx="1.6" ry="2.1" transform="rotate(29.5 385.4 391.3)" stroke="#000" stroke-width="1.1" fill="none" />
<ellipse cx="390.5" cy="358.0" rx="3.4" ry="4.5" transform="rotate(29.5 390.5 358.0)" stroke="#000" stroke-width="1.4" fill="#fff" />
<ellipse cx="390.5" cy="358.0" rx="1.6" ry="2.1" transform="rotate(29.5 390.5 358.0)" stroke="#000" stroke-width="1.1" fill="none" />
<ellipse cx="411.7" cy="329.0" rx="3.4" ry="4.5" transform="rotate(29.5 411.7 329.0)" stroke="#000" stroke-width="1.4" fill="#fff" />
<ellipse cx="411.7" cy="329.0" rx="1.6" ry="2.1" transform="rotate(29.5 411.7 329.0)" stroke="#000" stroke-width="1.1" fill="none" />
<ellipse cx="439.1" cy="317.8" rx="3.4" ry="4.5" transform="rotate(29.5 439.1 317.8)" stroke="#000" stroke-width="1.4" fill="#fff" />
<ellipse cx="439.1" cy="317.8" rx="1.6" ry="2.1" transform="rotate(29.5 439.1 317.8)" stroke="#000" stroke-width="1.1" fill="none" />
<ellipse cx="459.9" cy="329.5" rx="3.4" ry="4.5" transform="rotate(29.5 459.9 329.5)" stroke="#000" stroke-width="1.4" fill="#fff" />
<ellipse cx="459.9" cy="329.5" rx="1.6" ry="2.1" transform="rotate(29.5 459.9 329.5)" stroke="#000" stroke-width="1.1" fill="none" />
<ellipse cx="464.4" cy="358.9" rx="3.4" ry="4.5" transform="rotate(29.5 464.4 358.9)" stroke="#000" stroke-width="1.4" fill="#fff" />
<ellipse cx="464.4" cy="358.9" rx="1.6" ry="2.1" transform="rotate(29.5 464.4 358.9)" stroke="#000" stroke-width="1.1" fill="none" />
<ellipse cx="426.0" cy="368.0" rx="23.8" ry="36.0" transform="rotate(29.5 426.0 368.0)" stroke="#000" stroke-width="1.6" fill="#fff" />
<line x1="446.7" y1="379.7" x2="434.2" y2="381.3" stroke="#000" stroke-width="2.2" />
<line x1="421.0" y1="401.0" x2="417.5" y2="388.1" stroke="#000" stroke-width="2.2" />
<line x1="400.3" y1="389.3" x2="409.4" y2="374.8" stroke="#000" stroke-width="2.2" />
<line x1="405.3" y1="356.3" x2="417.8" y2="354.7" stroke="#000" stroke-width="2.2" />
<line x1="431.0" y1="335.0" x2="434.5" y2="347.9" stroke="#000" stroke-width="2.2" />
<line x1="451.7" y1="346.7" x2="442.6" y2="361.2" stroke="#000" stroke-width="2.2" />
<ellipse cx="450.6" cy="334.6" rx="9.6" ry="14.5" transform="rotate(29.5 450.6 334.6)" stroke="#000" stroke-width="2.4" fill="#fff" />
<ellipse cx="452.0" cy="335.5" rx="7.3" ry="11.0" transform="rotate(29.5 452.0 335.5)" stroke="#000" stroke-width="1.3" fill="none" />
<ellipse cx="449.0" cy="333.8" rx="7.9" ry="12.0" transform="rotate(29.5 449.0 333.8)" stroke="#000" stroke-width="1.0" fill="none" />
<ellipse cx="418.5" cy="347.7" rx="10.2" ry="15.5" transform="rotate(29.5 418.5 347.7)" stroke="#000" stroke-width="3.5" fill="#fff" />
<g transform="translate(418.5 347.7) rotate(40.27688821020977)">
<ellipse cx="0" cy="0" rx="9.2" ry="13.7" fill="#000"/>
<rect x="0" y="-11.7" width="24.9" height="23.4" fill="url(#knurl3)"/>
<path d="M0,-11.7 L24.9,-11.7 M0,11.7 L24.9,11.7" stroke="#000" stroke-width="1.4"/>
<ellipse cx="24.9" cy="0" rx="7.7" ry="11.7" fill="#fff" stroke="#000" stroke-width="1.6"/>
</g>
<ellipse cx="389.4" cy="369.6" rx="10.2" ry="15.5" transform="rotate(29.5 389.4 369.6)" stroke="#000" stroke-width="3.5" fill="#fff" />
<g transform="translate(389.4 369.6) rotate(35.3202964737221)">
<ellipse cx="0" cy="0" rx="9.1" ry="13.5" fill="#000"/>
<rect x="0" y="-11.5" width="21.4" height="23.0" fill="url(#knurl3)"/>
<path d="M0,-11.5 L21.4,-11.5 M0,11.5 L21.4,11.5" stroke="#000" stroke-width="1.4"/>
<ellipse cx="21.4" cy="0" rx="7.6" ry="11.5" fill="#fff" stroke="#000" stroke-width="1.6"/>
</g>
<ellipse cx="420.0" cy="398.0" rx="11.2" ry="17.0" transform="rotate(29.5 420.0 398.0)" stroke="#000" stroke-width="0" fill="#000" />
<g transform="translate(420.0 398.0) rotate(29.51897500769223)">
<ellipse cx="0" cy="0" rx="9.44" ry="14.30" fill="#fff" stroke="#000" stroke-width="1.5"/>
<path d="M0,-14.30 L25.17,-14.30 L25.17,14.30 L0,14.30 Z" fill="#fff" stroke="none"/>
<path d="M0,-14.30 L25.17,-14.30 M0,14.30 L25.17,14.30" stroke="#000" stroke-width="1.5" fill="none"/>
<ellipse cx="25.17" cy="0" rx="9.44" ry="14.30" fill="#fff" stroke="#000" stroke-width="1.5"/>
</g>
<ellipse cx="441.9" cy="410.4" rx="8.2" ry="12.5" transform="rotate(29.5 441.9 410.4)" stroke="#000" stroke-width="1.0" fill="none" />
<line x1="433.0" y1="420.0" x2="436.0" y2="424.0" stroke="#000" stroke-width="2" />
<ellipse cx="554.4" cy="372.4" rx="11.8" ry="16.8" transform="rotate(29.5 554.4 372.4)" stroke="#000" stroke-width="2.6" fill="none" />
<ellipse cx="555.5" cy="373.0" rx="10.1" ry="14.5" transform="rotate(29.5 555.5 373.0)" stroke="#000" stroke-width="1.0" fill="none" />
<g transform="translate(578.5 390.0) rotate(21)">
<ellipse cx="0" cy="0" rx="9.5" ry="16" fill="#fff" stroke="#000" stroke-width="2.6"/>
<rect x="0" y="-16" width="9" height="32" fill="#fff"/>
<path d="M0,-16 L9,-16 M0,16 L9,16" stroke="#000" stroke-width="2.6"/>
<ellipse cx="2" cy="0" rx="7" ry="13" fill="none" stroke="#000" stroke-width="1.5" stroke-dasharray="2 1.5"/>
<ellipse cx="9" cy="0" rx="9" ry="15" fill="#fff" stroke="#000" stroke-width="1.6"/>
<ellipse cx="10" cy="0" rx="7.5" ry="12.5" fill="none" stroke="#000" stroke-width="1"/>
<rect x="12" y="-13" width="20" height="26" fill="url(#knurl3)"/>
<path d="M12,-13 L32,-13 M12,13 L32,13" stroke="#000" stroke-width="1.6"/>
<ellipse cx="32" cy="0" rx="8.5" ry="13" fill="#fff" stroke="#000" stroke-width="2"/>
<ellipse cx="33" cy="0" rx="5.5" ry="8" fill="#000"/>
<ellipse cx="33.5" cy="0" rx="3.8" ry="5.5" fill="#fff"/>
<path d="M31.5,-2.5 L35.5,2.5 M31.5,2.5 L35.5,-2.5" stroke="#000" stroke-width="1.1"/>
</g>
<g transform="translate(487.0 438.5) rotate(29.054604099077146)">
<ellipse cx="0" cy="0" rx="15.81" ry="25.50" fill="#fff" stroke="#000" stroke-width="2.0"/>
<path d="M0,-25.50 L10.30,-25.50 L10.30,25.50 L0,25.50 Z" fill="#fff" stroke="none"/>
<path d="M0,-25.50 L10.30,-25.50 M0,25.50 L10.30,25.50" stroke="#000" stroke-width="2.0" fill="none"/>
<ellipse cx="10.30" cy="0" rx="15.81" ry="25.50" fill="#fff" stroke="#000" stroke-width="2.0"/>
</g>
<ellipse cx="496.0" cy="443.5" rx="13.9" ry="22.5" transform="rotate(29.5 496.0 443.5)" stroke="#000" stroke-width="1.3" fill="none" />
<ellipse cx="496.5" cy="443.8" rx="11.8" ry="19.0" transform="rotate(29.5 496.5 443.8)" stroke="#000" stroke-width="2.4" fill="none" />
<ellipse cx="499.0" cy="445.0" rx="10.5" ry="17.0" transform="rotate(29.5 499.0 445.0)" stroke="#000" stroke-width="1.1" fill="none" />
<path d="M497.0,419.0 L504.0,418.0 L511.0,423.0 L510.0,428.0" stroke="#000" stroke-width="1.3" fill="#fff" stroke-linejoin="round" />
<path d="M514.0,432.0 L517.0,434.0 L516.0,452.0 L512.0,458.0" stroke="#000" stroke-width="1.3" fill="none" stroke-linejoin="round" />
<path d="M474,452 L478,451 L479,458 L475,459" stroke="#000" stroke-width="1.1" fill="none" stroke-linejoin="round" stroke-linecap="round" />
<g transform="translate(529.0 462.0) rotate(24.443954780416536)">
<ellipse cx="0" cy="0" rx="15.25" ry="24.60" fill="#fff" stroke="#000" stroke-width="1.4"/>
<path d="M0,-24.60 L12.08,-24.60 L12.08,24.60 L0,24.60 Z" fill="#fff" stroke="none"/>
<path d="M0,-24.60 L12.08,-24.60 M0,24.60 L12.08,24.60" stroke="#000" stroke-width="1.4" fill="none"/>
<ellipse cx="12.08" cy="0" rx="15.25" ry="24.60" fill="#fff" stroke="#000" stroke-width="1.4"/>
</g>
<ellipse cx="540.0" cy="467.0" rx="12.7" ry="20.5" transform="rotate(29.5 540.0 467.0)" stroke="#000" stroke-width="1.4" fill="none" />
<ellipse cx="543.0" cy="468.0" rx="11.5" ry="18.5" transform="rotate(29.5 543.0 468.0)" stroke="#000" stroke-width="1.0" fill="none" />
<line x1="531.0" y1="481.0" x2="537.0" y2="483.0" stroke="#000" stroke-width="1.5" />
<ellipse cx="569.9" cy="484.8" rx="14.9" ry="22.6" transform="rotate(29.5 569.9 484.8)" stroke="#000" stroke-width="2.6" fill="none" />
<ellipse cx="570.6" cy="485.1" rx="13.3" ry="20.2" transform="rotate(29.5 570.6 485.1)" stroke="#000" stroke-width="1.1" fill="none" />
<g transform="translate(597.0 506.0) rotate(20)">
<ellipse cx="0" cy="0" rx="15.5" ry="26.5" fill="#000"/>
<rect x="0" y="-26.5" width="23" height="53" fill="url(#knurl3)"/>
<ellipse cx="0" cy="0" rx="13" ry="24" fill="url(#knurl3)"/>
<path d="M0,-26.5 L23,-26.5 M0,26.5 L23,26.5" stroke="#000" stroke-width="2"/>
<ellipse cx="23" cy="0" rx="15.5" ry="26.5" fill="#fff" stroke="#000" stroke-width="2"/>
<ellipse cx="24" cy="0" rx="12.5" ry="21.5" fill="#fff" stroke="#000" stroke-width="1.5"/>
<ellipse cx="26" cy="0" rx="10.5" ry="18.5" fill="none" stroke="#000" stroke-width="1"/>
<ellipse cx="6" cy="-16" rx="4" ry="5" fill="#fff" stroke="#000" stroke-width="1.2"/>
<path d="M18,6 L24,6 L24,14 L18,14" stroke="#000" stroke-width="1.1" fill="none"/>
</g>
<g transform="translate(640.5 529.5) rotate(22.69379494509236)">
<ellipse cx="0" cy="0" rx="7.15" ry="14.30" fill="#fff" stroke="#000" stroke-width="1.3"/>
<path d="M0,-14.30 L29.81,-14.30 L29.81,14.30 L0,14.30 Z" fill="#fff" stroke="none"/>
<path d="M0,-14.30 L29.81,-14.30 M0,14.30 L29.81,14.30" stroke="#000" stroke-width="1.3" fill="none"/>
<ellipse cx="29.81" cy="0" rx="7.15" ry="14.30" fill="#fff" stroke="#000" stroke-width="1.3"/>
</g>
<path d="M679.6,547.2 L674.9,551.3 L670.8,556.8 L666.8,556.4 L662.1,558.0 L661.1,553.2 L658.6,549.9 L661.2,543.6 L662.4,537.4 L667.1,533.3 L671.2,527.8 L675.2,528.2 L679.9,526.6 L680.9,531.4 L683.4,534.7 L680.8,541.0 Z" stroke="#000" stroke-width="1.4" fill="#fff" stroke-linejoin="round" />
<ellipse cx="671.5" cy="542.5" rx="6.9" ry="11.5" transform="rotate(29.5 671.5 542.5)" stroke="#000" stroke-width="1.4" fill="none" />
<ellipse cx="672.0" cy="542.8" rx="6.0" ry="10.0" transform="rotate(29.5 672.0 542.8)" stroke="#000" stroke-width="1.0" fill="none" />
<ellipse cx="694.9" cy="556.8" rx="11.6" ry="17.5" transform="rotate(29.5 694.9 556.8)" stroke="#000" stroke-width="2.4" fill="none" />
<ellipse cx="695.5" cy="557.1" rx="10.1" ry="15.3" transform="rotate(29.5 695.5 557.1)" stroke="#000" stroke-width="1.1" fill="none" />
<ellipse cx="724.6" cy="573.3" rx="13.4" ry="21.6" transform="rotate(29.5 724.6 573.3)" stroke="#000" stroke-width="1.6" fill="#fff" />
<rect x="709.5" y="562.5" width="3.2" height="4.5" rx="0" stroke="#000" stroke-width="0" fill="#000" />
<rect x="704.5" y="578.5" width="4.0" height="4.0" rx="0" stroke="#000" stroke-width="0" fill="#000" />
<path d="M720.0,570.0 L754.0,590.0" stroke="#000" stroke-width="1.1" fill="none" stroke-linejoin="round" stroke-dasharray="30 4 4 4" />
<ellipse cx="794.0" cy="664.5" rx="52.1" ry="79.0" transform="rotate(28 794.0 664.5)" stroke="#000" stroke-width="1.6" fill="#fff" />
<ellipse cx="797.5" cy="662.5" rx="51.5" ry="78.0" transform="rotate(28 797.5 662.5)" stroke="#000" stroke-width="1.4" fill="#fff" />
<ellipse cx="798.8" cy="661.8" rx="49.8" ry="75.5" transform="rotate(28 798.8 661.8)" stroke="#000" stroke-width="0.8" fill="none" />
<ellipse cx="768.0" cy="671.0" rx="8.9" ry="13.5" transform="rotate(28 768.0 671.0)" stroke="#000" stroke-width="1.7" fill="none" />
<ellipse cx="800.0" cy="652.0" rx="8.9" ry="13.5" transform="rotate(28 800.0 652.0)" stroke="#000" stroke-width="1.7" fill="none" />
<ellipse cx="831.0" cy="634.0" rx="8.9" ry="13.5" transform="rotate(28 831.0 634.0)" stroke="#000" stroke-width="1.7" fill="none" />
<ellipse cx="800.0" cy="696.0" rx="14.2" ry="21.5" transform="rotate(28 800.0 696.0)" stroke="#000" stroke-width="1.7" fill="none" />
<ellipse cx="798.6" cy="695.2" rx="12.6" ry="21.2" transform="rotate(28 798.6 695.2)" stroke="#000" stroke-width="0.8" fill="none" />
<path d="M760.0,674.0 L773.0,679.0" stroke="#000" stroke-width="1.0" fill="none" stroke-linejoin="round" stroke-dasharray="30 4 4 4" />
<path d="M790.0,690.0 L805.0,698.0" stroke="#000" stroke-width="1.0" fill="none" stroke-linejoin="round" stroke-dasharray="30 4 4 4" />
<path d="M870.4,552.0 L873.0,548.5 L985.5,486.5 L988.8,489.5 L988.8,614.0 L986.0,617.5 L874.0,678.5 L871.4,676.0 Z" stroke="#000" stroke-width="1.6" fill="#fff" stroke-linejoin="round" stroke-linecap="round" />
<path d="M874.5,676 L874.5,551 L986,489.5" stroke="#000" stroke-width="0.9" fill="none" stroke-linejoin="round" stroke-linecap="round" />
<path d="M878,674 L878,552.5 L987,492.5" stroke="#000" stroke-width="1.1" fill="none" stroke-linejoin="round" stroke-linecap="round" />
<ellipse cx="902.9" cy="591.0" rx="9.1" ry="13.8" transform="rotate(28 902.9 591.0)" stroke="#000" stroke-width="1.7" fill="none" />
<ellipse cx="933.3" cy="572.2" rx="9.1" ry="13.8" transform="rotate(28 933.3 572.2)" stroke="#000" stroke-width="1.7" fill="none" />
<ellipse cx="964.7" cy="554.3" rx="9.1" ry="13.8" transform="rotate(28 964.7 554.3)" stroke="#000" stroke-width="1.7" fill="none" />
<ellipse cx="934.3" cy="616.2" rx="14.9" ry="22.5" transform="rotate(28 934.3 616.2)" stroke="#000" stroke-width="1.7" fill="none" />
<ellipse cx="932.9" cy="615.5" rx="13.2" ry="22.2" transform="rotate(28 932.9 615.5)" stroke="#000" stroke-width="0.8" fill="none" />
<path d="M893.0,592.0 L905.0,598.0" stroke="#000" stroke-width="1.0" fill="none" stroke-linejoin="round" stroke-dasharray="30 4 4 4" />
<path d="M924.0,609.0 L938.0,617.0" stroke="#000" stroke-width="1.0" fill="none" stroke-linejoin="round" stroke-dasharray="30 4 4 4" />
</svg>
</body></html>
